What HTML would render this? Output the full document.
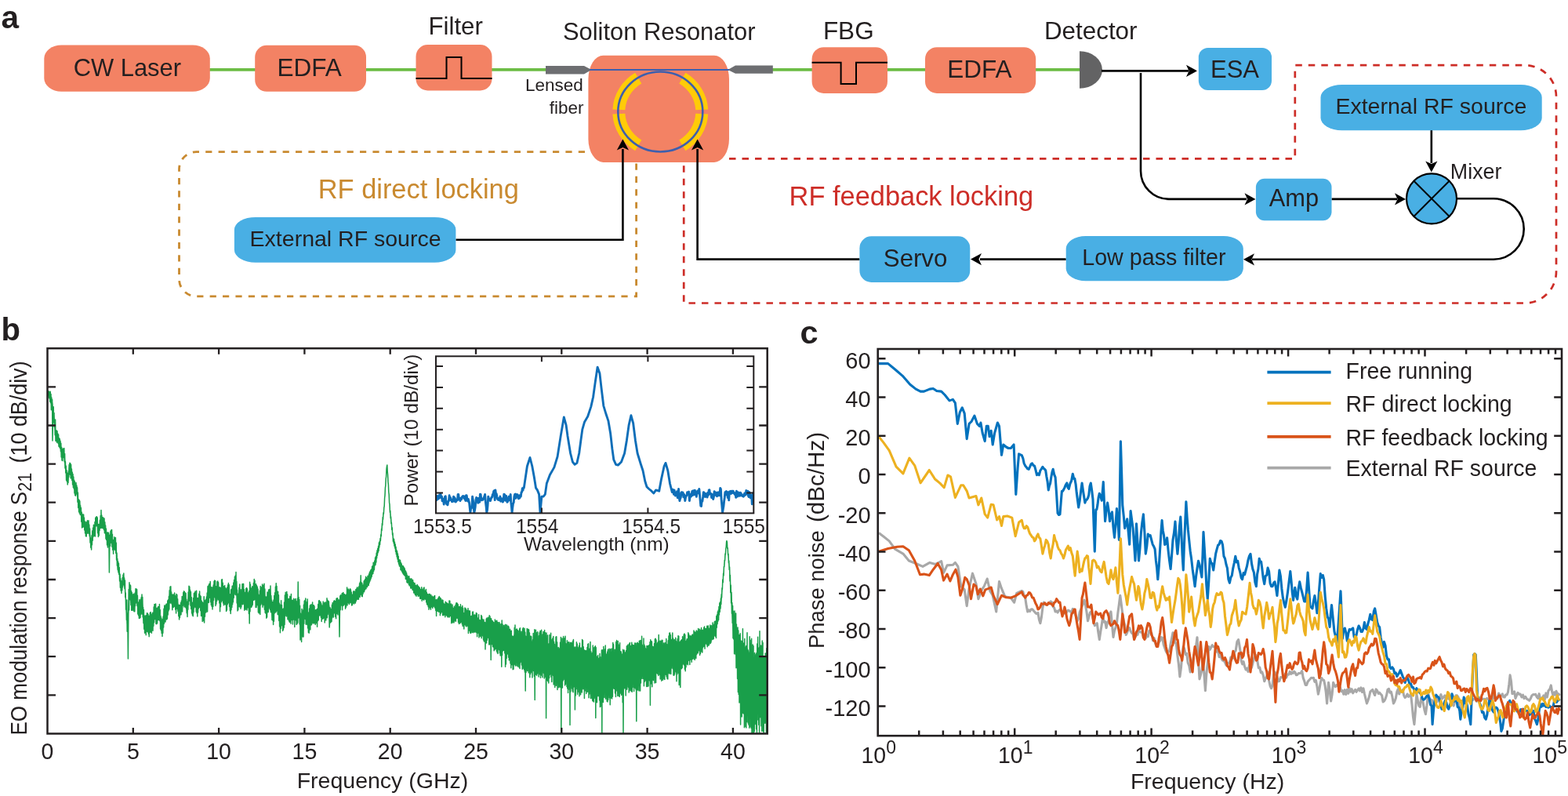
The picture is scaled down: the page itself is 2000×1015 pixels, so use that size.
<!DOCTYPE html>
<html><head><meta charset="utf-8"><title>Figure</title>
<style>html,body{margin:0;padding:0;background:#fff;} svg{display:block;} text{font-family:'Liberation Sans', Arial, Helvetica, sans-serif;}</style>
</head><body>
<svg width="2000" height="1015" viewBox="0 0 2000 1015">
<text x="1.5" y="35.6" font-size="40.5" font-weight="bold" fill="#231F20">a</text>
<line x1="260" y1="88.9" x2="700" y2="88.9" stroke="#6CBD45" stroke-width="3.8"/>
<line x1="980" y1="88.9" x2="1380" y2="88.9" stroke="#6CBD45" stroke-width="3.8"/>
<path d="M 811.6 193.6 L 250.5 193.6 A 22 22 0 0 0 228.5 215.6 L 228.5 355.9 A 22 22 0 0 0 250.5 377.9 L 811.6 377.9 Z" fill="none" stroke="#C98A30" stroke-width="2.8" stroke-dasharray="8.2 8.2"/>
<path d="M 930 202.4 L 1651.8 202.4 L 1651.8 83.2 L 1945 83.2 A 40 40 0 0 1 1985 123.2 L 1985 346.5 A 40 40 0 0 1 1945 386.5 L 872.2 386.5 L 872.2 207" fill="none" stroke="#CD2D27" stroke-width="2.7" stroke-dasharray="8.5 8"/>
<rect x="56.3" y="57.5" width="211.50" height="59.30" rx="22" ry="17" fill="#F38264"/>
<rect x="325.2" y="57.8" width="141.80" height="59.00" rx="15" ry="15" fill="#F38264"/>
<rect x="530.5" y="57" width="97.00" height="58.50" rx="15" ry="15" fill="#F38264"/>
<rect x="750.4" y="70.7" width="179.60" height="136.20" rx="19" ry="30" fill="#F38264"/>
<rect x="1035.6" y="60.2" width="96.40" height="58.80" rx="15" ry="15" fill="#F38264"/>
<rect x="1180" y="60.2" width="141.20" height="58.80" rx="15" ry="15" fill="#F38264"/>
<path d="M 530.5 100 L 569.5 100 L 569.5 73 L 588.5 73 L 588.5 100 L 627.5 100" fill="none" stroke="#000" stroke-width="2"/>
<path d="M 1035.6 79.8 L 1072.6 79.8 L 1072.6 107 L 1092 107 L 1092 79.8 L 1132 79.8" fill="none" stroke="#000" stroke-width="2"/>
<path d="M 696 84 L 745 84 L 754.5 89 L 745 94.4 L 696 94.4 Z" fill="#6D6E71"/>
<path d="M 985.8 83.4 L 938 83.4 L 928.4 89 L 938 93.8 L 985.8 93.8 Z" fill="#6D6E71"/>
<line x1="752" y1="89" x2="930" y2="89" stroke="#3D5FAE" stroke-width="1.8"/>
<path d="M 814.21 99.67 A 53 50.5 0 0 0 789.37 139.86" fill="none" stroke="#FFCB08" stroke-width="16"/>
<path d="M 789.37 145.14 A 53 50.5 0 0 0 814.21 185.33" fill="none" stroke="#FFCB08" stroke-width="16"/>
<path d="M 895.23 139.86 A 53 50.5 0 0 0 870.39 99.67" fill="none" stroke="#FFCB08" stroke-width="16"/>
<path d="M 895.23 145.14 A 53 50.5 0 0 1 870.39 185.33" fill="none" stroke="#FFCB08" stroke-width="16"/>
<ellipse cx="842.3" cy="142.5" rx="54" ry="51" fill="none" stroke="#3D5FAE" stroke-width="2.6"/>
<path d="M 1377 65.2 L 1377 112.8 A 29 23.8 0 0 0 1377 65.2 Z" fill="#636364"/>
<g fill="none" stroke="#000" stroke-width="2.6">
<line x1="1405" y1="90.4" x2="1516" y2="90.4"/>
<path d="M 1455 93 L 1455 217.9 A 36 36 0 0 0 1491 253.9 L 1590 253.9"/>
<line x1="1698.5" y1="253.9" x2="1782" y2="253.9"/>
<line x1="1825.8" y1="166" x2="1825.8" y2="208"/>
<path d="M 1859 253.3 L 1905 253.3 A 38.75 38.75 0 0 1 1905 330.8 L 1597 330.8"/>
<line x1="1359.7" y1="330.6" x2="1250" y2="330.6"/>
<path d="M 1096.4 330.6 L 889.6 330.6 L 889.6 190"/>
<path d="M 581.4 305.8 L 794.4 305.8 L 794.4 190"/>
</g>
<polygon points="1527.00,90.40 1513.00,98.00 1516.60,90.40 1513.00,82.80" fill="#000"/>
<polygon points="1601.50,253.90 1587.50,261.50 1591.10,253.90 1587.50,246.30" fill="#000"/>
<polygon points="1793.00,253.90 1779.00,261.50 1782.60,253.90 1779.00,246.30" fill="#000"/>
<polygon points="1825.80,219.50 1818.20,205.50 1825.80,209.10 1833.40,205.50" fill="#000"/>
<polygon points="1586.00,330.80 1600.00,323.20 1596.40,330.80 1600.00,338.40" fill="#000"/>
<polygon points="1238.00,330.60 1252.00,323.00 1248.40,330.60 1252.00,338.20" fill="#000"/>
<polygon points="889.60,177.60 897.20,191.60 889.60,188.00 882.00,191.60" fill="#000"/>
<polygon points="794.40,177.60 802.00,191.60 794.40,188.00 786.80,191.60" fill="#000"/>
<rect x="1528.8" y="61" width="93.20" height="54.00" rx="12" ry="12" fill="#49AFE4"/>
<rect x="1684.5" y="108" width="282.20" height="58.20" rx="27" ry="16" fill="#49AFE4"/>
<rect x="1601.9" y="227.7" width="96.60" height="53.50" rx="11" ry="11" fill="#49AFE4"/>
<rect x="298.9" y="276.9" width="282.50" height="57.80" rx="27" ry="16" fill="#49AFE4"/>
<rect x="1096.4" y="301.3" width="140.90" height="58.60" rx="15" ry="15" fill="#49AFE4"/>
<rect x="1359.7" y="301" width="226.10" height="57.30" rx="25" ry="16" fill="#49AFE4"/>
<circle cx="1826" cy="253.3" r="32" fill="#49AFE4" stroke="#000" stroke-width="2.2"/>
<path d="M 1803.37 230.67 L 1848.63 275.93 M 1848.63 230.67 L 1803.37 275.93" stroke="#000" stroke-width="2"/>
<text x="93.70" y="97.30" font-size="30.9" fill="#231F20" >CW Laser</text>
<text x="353.48" y="97.20" font-size="31.5" fill="#231F20" >EDFA</text>
<text x="546.50" y="44.00" font-size="31.2" fill="#231F20" >Filter</text>
<text x="717.96" y="51.25" font-size="30.9" fill="#231F20" >Soliton Resonator</text>
<text x="1049.88" y="49.80" font-size="31.5" fill="#231F20" >FBG</text>
<text x="1208.28" y="98.80" font-size="31.5" fill="#231F20" >EDFA</text>
<text x="1331.89" y="49.80" font-size="31.4" fill="#231F20" >Detector</text>
<text x="1544.02" y="99.00" font-size="31" fill="#231F20" >ESA</text>
<text x="1703.42" y="144.60" font-size="28.5" fill="#231F20" >External RF source</text>
<text x="1849.86" y="228.00" font-size="26.8" fill="#231F20" >Mixer</text>
<text x="1618.70" y="262.70" font-size="30.8" fill="#231F20" >Amp</text>
<text x="405.75" y="253.30" font-size="34.4" fill="#C98A30" >RF direct locking</text>
<text x="318.62" y="313.50" font-size="28.5" fill="#231F20" >External RF source</text>
<text x="1006.55" y="261.50" font-size="34.4" fill="#CD2D27" >RF feedback locking</text>
<text x="1126.84" y="339.50" font-size="31.2" fill="#231F20" >Servo</text>
<text x="1380.20" y="338.00" font-size="28.7" fill="#231F20" >Low pass filter</text>
<text x="743.75" y="116.25" font-size="22.5" fill="#231F20" text-anchor="end">Lensed</text>
<text x="744.5" y="145" font-size="22.5" fill="#231F20" text-anchor="end">fiber</text>
<text x="1.5" y="434.3" font-size="40" font-weight="bold" fill="#231F20">b</text>
<clipPath id="cb"><rect x="60.5" y="444.2" width="918.2" height="491.3"/></clipPath>
<polygon clip-path="url(#cb)" points="61.0,499.3 61.8,500.2 62.6,501.0 63.4,501.5 64.2,502.3 65.0,504.9 65.8,507.7 66.6,510.1 67.4,514.7 68.2,522.2 69.0,530.1 69.8,537.9 70.6,545.6 71.4,550.6 72.2,552.3 73.0,553.0 73.8,553.6 74.6,556.0 75.4,559.9 76.2,562.4 77.0,564.1 77.8,568.1 78.6,573.5 79.4,576.0 80.2,575.3 81.0,574.3 81.8,576.1 82.6,581.5 83.4,589.3 84.2,597.0 85.0,602.8 85.8,606.2 86.6,606.3 87.4,601.2 88.2,592.9 89.0,591.6 89.8,592.9 90.6,594.2 91.4,597.9 92.2,604.6 93.0,608.0 93.8,609.7 94.6,613.0 95.4,617.9 96.2,619.8 97.0,618.6 97.8,618.4 98.6,622.8 99.4,630.2 100.2,636.7 101.0,640.2 101.8,641.8 102.6,644.5 103.4,649.8 104.2,655.6 105.0,658.9 105.8,659.5 106.6,659.7 107.4,661.1 108.2,664.3 109.0,668.3 109.8,670.5 110.6,669.1 111.4,667.5 112.2,667.1 113.0,667.3 113.8,670.0 114.6,677.1 115.4,685.6 116.2,689.7 117.0,686.1 117.8,679.7 118.6,674.3 119.4,672.0 120.2,671.1 121.0,668.6 121.8,663.4 122.6,659.0 123.4,659.1 124.2,663.8 125.0,669.9 125.8,671.8 126.6,669.2 127.4,664.5 128.2,660.7 129.0,659.3 129.8,659.3 130.6,659.6 131.4,660.4 132.2,662.0 133.0,664.2 133.8,667.0 134.6,670.9 135.4,675.5 136.2,679.5 137.0,682.3 137.8,683.1 138.6,682.5 139.4,682.4 140.2,682.4 141.0,680.2 141.8,677.8 142.6,679.7 143.4,685.2 144.2,689.5 145.0,690.0 145.8,688.1 146.6,686.4 147.4,687.2 148.2,695.8 149.0,706.1 149.8,714.4 150.6,718.3 151.4,720.0 152.2,724.0 153.0,731.5 153.8,738.2 154.6,742.2 155.4,743.2 156.2,740.2 157.0,735.9 157.8,734.3 158.6,737.1 159.4,744.1 160.2,755.7 161.0,768.5 161.8,778.8 162.6,782.4 163.4,775.9 164.2,759.8 165.0,748.6 165.8,746.6 166.6,751.6 167.4,758.0 168.2,760.8 169.0,759.9 169.8,759.7 170.6,761.1 171.4,762.5 172.2,760.9 173.0,755.8 173.8,752.2 174.6,754.4 175.4,761.5 176.2,768.5 177.0,771.3 177.8,770.5 178.6,768.4 179.4,765.4 180.2,761.9 181.0,761.7 181.8,767.3 182.6,774.8 183.4,780.4 184.2,784.6 185.0,788.7 185.8,790.0 186.6,787.0 187.4,784.3 188.2,785.9 189.0,789.2 189.8,790.4 190.6,789.3 191.4,786.7 192.2,785.4 193.0,785.9 193.8,786.8 194.6,786.1 195.4,782.9 196.2,777.2 197.0,772.1 197.8,771.2 198.6,775.2 199.4,779.5 200.2,779.3 201.0,776.1 201.8,773.8 202.6,773.0 203.4,774.5 204.2,780.4 205.0,788.0 205.8,791.9 206.6,792.3 207.4,791.3 208.2,787.4 209.0,780.8 209.8,776.4 210.6,776.1 211.4,776.2 212.2,774.6 213.0,772.6 213.8,770.7 214.6,767.2 215.4,761.9 216.2,755.6 217.0,752.5 217.8,751.9 218.6,754.9 219.4,760.6 220.2,762.4 221.0,760.7 221.8,759.0 222.6,759.0 223.4,760.6 224.2,761.8 225.0,761.6 225.8,761.5 226.6,764.7 227.4,770.9 228.2,775.8 229.0,776.4 229.8,772.8 230.6,769.3 231.4,767.2 232.2,765.0 233.0,761.7 233.8,758.7 234.6,757.3 235.4,757.1 236.2,757.8 237.0,761.0 237.8,766.8 238.6,771.0 239.4,767.8 240.2,758.5 241.0,750.6 241.8,749.3 242.6,753.1 243.4,758.3 244.2,763.1 245.0,767.8 245.8,770.1 246.6,767.3 247.4,761.3 248.2,757.4 249.0,757.6 249.8,761.0 250.6,765.5 251.4,767.9 252.2,766.5 253.0,763.3 253.8,760.6 254.6,758.8 255.4,760.1 256.2,764.9 257.0,769.8 257.8,772.3 258.6,773.3 259.4,773.8 260.2,772.7 261.0,770.7 261.8,768.9 262.6,766.9 263.4,763.7 264.2,758.9 265.0,753.3 265.8,749.6 266.6,748.4 267.4,747.3 268.2,746.3 269.0,748.6 269.8,753.5 270.6,756.7 271.4,754.9 272.2,749.3 273.0,743.7 273.8,741.7 274.6,745.6 275.4,751.4 276.2,752.0 277.0,747.2 277.8,744.0 278.6,746.6 279.4,751.7 280.2,754.7 281.0,753.4 281.8,749.0 282.6,745.0 283.4,744.5 284.2,747.1 285.0,749.6 285.8,749.8 286.6,749.2 287.4,750.4 288.2,753.6 289.0,756.0 289.8,754.8 290.6,750.6 291.4,748.1 292.2,750.8 293.0,756.8 293.8,760.3 294.6,758.2 295.4,753.9 296.2,752.2 297.0,751.9 297.8,748.8 298.6,742.9 299.4,737.1 300.2,735.6 301.0,735.9 301.8,743.2 302.6,752.6 303.4,757.9 304.2,756.5 305.0,752.0 305.8,750.1 306.6,751.9 307.4,754.6 308.2,754.3 309.0,751.2 309.8,748.9 310.6,750.2 311.4,753.6 312.2,755.6 313.0,755.9 313.8,755.8 314.6,755.8 315.4,755.9 316.2,756.9 317.0,758.0 317.8,756.9 318.6,753.5 319.4,750.5 320.2,750.3 321.0,751.9 321.8,752.3 322.6,749.3 323.4,744.5 324.2,742.5 325.0,744.4 325.8,747.9 326.6,750.9 327.4,752.6 328.2,753.9 329.0,756.0 329.8,759.0 330.6,760.8 331.4,759.0 332.2,754.0 333.0,749.5 333.8,749.1 334.6,751.5 335.4,752.3 336.2,750.8 337.0,751.2 337.8,756.4 338.6,762.6 339.4,765.1 340.2,764.0 341.0,761.8 341.8,759.0 342.6,756.0 343.4,754.3 344.2,753.5 345.0,754.2 345.8,758.8 346.6,766.4 347.4,772.2 348.2,773.4 349.0,769.8 349.8,763.2 350.6,756.7 351.4,752.5 352.2,751.1 353.0,752.6 353.8,755.8 354.6,759.8 355.4,765.5 356.2,772.9 357.0,777.7 357.8,776.9 358.6,773.2 359.4,772.4 360.2,775.5 361.0,778.9 361.8,778.4 362.6,773.3 363.4,766.2 364.2,761.0 365.0,759.6 365.8,761.3 366.6,764.5 367.4,767.3 368.2,768.3 369.0,767.8 369.8,767.7 370.6,769.0 371.4,771.1 372.2,772.3 373.0,771.4 373.8,768.9 374.6,767.4 375.4,768.0 376.2,769.4 377.0,770.8 377.8,771.7 378.6,771.7 379.4,769.7 380.2,766.3 381.0,765.0 381.8,769.3 382.6,777.3 383.4,784.2 384.2,786.2 385.0,784.3 385.8,782.1 386.6,778.9 387.4,772.8 388.2,767.2 389.0,766.6 389.8,769.2 390.6,771.6 391.4,774.3 392.2,778.6 393.0,782.7 393.8,784.2 394.6,782.3 395.4,778.8 396.2,776.5 397.0,775.5 397.8,774.2 398.6,772.6 399.4,773.3 400.2,776.2 401.0,778.6 401.8,778.9 402.6,778.4 403.4,779.1 404.2,780.2 405.0,779.1 405.8,774.9 406.6,769.6 407.4,766.7 408.2,767.7 409.0,771.2 409.8,774.2 410.6,775.0 411.4,773.4 412.2,771.2 413.0,770.4 413.8,771.3 414.6,772.8 415.4,774.0 416.2,774.2 417.0,772.5 417.8,769.4 418.6,767.0 419.4,767.6 420.2,771.8 421.0,776.7 421.8,779.0 422.6,777.8 423.4,775.2 424.2,772.8 425.0,771.0 425.8,769.9 426.6,769.7 427.4,769.8 428.2,769.0 429.0,768.0 429.8,767.6 430.6,767.4 431.4,766.5 432.2,764.9 433.0,763.1 433.8,761.5 434.6,760.7 435.4,760.6 436.2,760.3 437.0,759.2 437.8,757.9 438.6,757.4 439.4,758.1 440.2,759.4 441.0,760.1 441.8,759.4 442.6,757.5 443.4,756.1 444.2,756.4 445.0,756.7 445.8,755.6 446.6,754.5 447.4,755.6 448.2,758.0 449.0,759.3 449.8,758.6 450.6,757.6 451.4,757.5 452.2,757.8 453.0,757.1 453.8,755.1 454.6,753.0 455.4,752.4 456.2,752.5 457.0,751.5 457.8,748.9 458.6,746.1 459.4,744.7 460.2,745.0 461.0,746.3 461.8,747.4 462.6,747.2 463.4,746.0 464.2,743.9 465.0,741.4 465.8,739.5 466.6,738.7 467.4,738.9 468.2,739.1 469.0,737.7 469.8,736.3 470.6,734.1 471.4,732.1 472.2,730.3 473.0,728.6 473.8,727.0 474.6,725.3 475.4,723.7 476.2,722.3 477.0,719.8 477.8,716.6 478.6,713.3 479.4,710.2 480.2,707.1 481.0,703.8 481.8,700.4 482.6,697.1 483.4,693.7 484.2,690.4 485.0,687.0 485.8,681.5 486.6,674.7 487.4,667.8 488.2,661.0 489.0,654.2 489.8,647.3 490.6,635.2 491.4,623.0 492.2,610.9 493.0,598.8 493.8,592.9 494.6,605.7 495.4,618.5 496.2,631.3 497.0,644.1 497.8,652.6 498.6,659.6 499.4,666.5 500.2,673.5 501.0,680.5 501.8,686.5 502.6,689.6 503.4,692.7 504.2,695.8 505.0,698.8 505.8,701.9 506.6,705.0 507.4,708.1 508.2,711.1 509.0,714.2 509.8,715.6 510.6,717.0 511.4,718.4 512.2,719.9 513.0,721.3 513.8,722.8 514.6,724.2 515.4,725.7 516.2,727.3 517.0,728.8 517.8,730.0 518.6,731.4 519.4,733.2 520.2,734.9 521.0,735.9 521.8,736.6 522.6,737.5 523.4,738.5 524.2,739.4 525.0,740.1 525.8,740.9 526.6,741.7 527.4,742.7 528.2,744.2 529.0,746.5 529.8,748.5 530.6,748.9 531.4,748.5 532.2,748.2 533.0,748.5 533.8,749.0 534.6,749.8 535.4,750.8 536.2,751.7 537.0,752.1 537.8,752.2 538.6,752.3 539.4,752.4 540.2,752.6 541.0,752.7 541.8,752.7 542.6,753.1 543.4,754.3 544.2,755.9 545.0,757.4 545.8,758.7 546.6,759.8 547.4,760.7 548.2,761.7 549.0,762.3 549.8,762.3 550.6,761.8 551.4,761.5 552.2,761.3 553.0,761.3 553.8,761.9 554.6,763.5 555.4,765.6 556.2,766.8 557.0,766.8 557.8,766.4 558.6,765.9 559.4,765.3 560.2,764.6 561.0,764.9 561.8,766.1 562.6,767.2 563.4,767.8 564.2,768.1 565.0,768.4 565.8,769.2 566.6,770.2 567.4,770.7 568.2,770.4 569.0,769.7 569.8,769.6 570.6,770.2 571.4,770.9 572.2,771.0 573.0,770.4 573.8,769.9 574.6,770.5 575.4,772.1 576.2,774.1 577.0,775.8 577.8,776.8 578.6,777.2 579.4,777.1 580.2,776.7 581.0,775.5 581.8,774.0 582.6,773.3 583.4,774.1 584.2,775.7 585.0,776.9 585.8,777.1 586.6,776.8 587.4,776.2 588.2,775.7 589.0,776.3 589.8,778.0 590.6,780.1 591.4,781.6 592.2,781.7 593.0,780.7 593.8,779.5 594.6,779.1 595.4,779.5 596.2,780.4 597.0,781.4 597.8,782.3 598.6,783.3 599.4,784.7 600.2,785.0 601.0,785.5 601.8,785.1 602.6,784.5 603.4,784.1 604.2,784.4 605.0,785.3 605.8,785.8 606.6,785.6 607.4,785.4 608.2,785.8 609.0,786.6 609.8,787.7 610.6,788.8 611.4,789.8 612.2,790.3 613.0,790.2 613.8,789.4 614.6,788.7 615.4,789.0 616.2,790.1 617.0,791.7 617.8,793.2 618.6,794.5 619.4,795.0 620.2,794.7 621.0,793.9 621.8,792.7 622.6,791.5 623.4,790.9 624.2,791.1 625.0,791.9 625.8,792.8 626.6,793.4 627.4,794.4 628.2,796.2 629.0,797.7 629.8,797.8 630.6,797.1 631.4,796.2 632.2,796.1 633.0,797.2 633.8,798.7 634.6,800.1 635.4,801.0 636.2,801.4 637.0,801.2 637.8,800.3 638.6,799.1 639.4,798.4 640.2,798.6 641.0,799.3 641.8,799.6 642.6,799.4 643.4,799.5 644.2,800.3 645.0,801.1 645.8,801.5 646.6,801.6 647.4,801.9 648.2,803.0 649.0,804.6 649.8,806.1 650.6,808.1 651.4,810.1 652.2,810.4 653.0,810.7 653.8,811.0 654.6,811.3 655.4,809.9 656.2,807.6 657.0,805.6 657.8,804.5 658.6,804.6 659.4,805.5 660.2,806.6 661.0,807.5 661.8,808.6 662.6,809.8 663.4,810.3 664.2,809.4 665.0,808.0 665.8,807.3 666.6,807.8 667.4,808.9 668.2,810.1 669.0,811.4 669.8,813.0 670.6,813.9 671.4,813.2 672.2,811.0 673.0,809.0 673.8,809.3 674.6,811.8 675.4,815.4 676.2,818.9 677.0,819.9 677.8,818.9 678.6,816.3 679.4,815.0 680.2,814.9 681.0,814.3 681.8,812.9 682.6,811.8 683.4,812.4 684.2,814.3 685.0,816.0 685.8,816.5 686.6,815.9 687.4,814.6 688.2,813.4 689.0,813.1 689.8,813.4 690.6,813.0 691.4,812.6 692.2,812.8 693.0,813.0 693.8,813.2 694.6,814.4 695.4,815.9 696.2,816.8 697.0,817.8 697.8,819.4 698.6,820.5 699.4,820.5 700.2,820.2 701.0,819.9 701.8,819.1 702.6,818.3 703.4,817.8 704.2,817.9 705.0,818.6 705.8,820.2 706.6,822.0 707.4,822.9 708.2,822.7 709.0,822.1 709.8,822.4 710.6,824.1 711.4,826.3 712.2,827.6 713.0,827.1 713.8,825.4 714.6,824.4 715.4,824.5 716.2,825.0 717.0,824.6 717.8,823.5 718.6,822.2 719.4,821.4 720.2,821.4 721.0,822.2 721.8,822.9 722.6,823.9 723.4,825.6 724.2,827.4 725.0,827.9 725.8,827.6 726.6,827.7 727.4,827.9 728.2,827.5 729.0,826.7 729.8,826.3 730.6,826.7 731.4,827.8 732.2,829.4 733.0,830.8 733.8,831.1 734.6,830.5 735.4,829.7 736.2,829.2 737.0,829.3 737.8,830.0 738.6,830.8 739.4,831.4 740.2,831.5 741.0,830.7 741.8,829.2 742.6,827.6 743.4,826.6 744.2,826.9 745.0,827.9 745.8,828.6 746.6,829.0 747.4,829.4 748.2,829.4 749.0,829.5 749.8,830.6 750.6,832.3 751.4,832.9 752.2,832.1 753.0,831.2 753.8,831.8 754.6,833.5 755.4,835.1 756.2,835.9 757.0,835.6 757.8,834.7 758.6,834.8 759.4,836.1 760.2,837.0 761.0,836.5 761.8,836.5 762.6,838.0 763.4,839.5 764.2,840.0 765.0,840.0 765.8,840.6 766.6,842.0 767.4,842.0 768.2,841.9 769.0,840.0 769.8,835.3 770.6,831.8 771.4,831.5 772.2,833.4 773.0,835.4 773.8,836.4 774.6,837.0 775.4,837.3 776.2,836.8 777.0,835.4 777.8,833.5 778.6,832.1 779.4,831.3 780.2,830.9 781.0,830.8 781.8,830.9 782.6,831.4 783.4,831.9 784.2,832.2 785.0,832.0 785.8,830.8 786.6,829.4 787.4,829.0 788.2,830.0 789.0,831.4 789.8,832.3 790.6,832.4 791.4,831.7 792.2,831.1 793.0,832.7 793.8,836.0 794.6,837.9 795.4,836.5 796.2,833.6 797.0,831.8 797.8,831.3 798.6,830.8 799.4,829.9 800.2,829.0 801.0,828.6 801.8,829.1 802.6,830.2 803.4,831.4 804.2,831.9 805.0,831.2 805.8,829.7 806.6,828.7 807.4,828.4 808.2,828.6 809.0,829.2 809.8,830.2 810.6,831.1 811.4,831.1 812.2,830.3 813.0,829.2 813.8,828.2 814.6,827.9 815.4,828.4 816.2,828.6 817.0,827.1 817.8,824.1 818.6,821.8 819.4,821.6 820.2,822.7 821.0,823.7 821.8,824.4 822.6,825.2 823.4,826.1 824.2,826.7 825.0,827.0 825.8,827.1 826.6,826.5 827.4,825.6 828.2,825.2 829.0,825.7 829.8,826.5 830.6,826.5 831.4,825.4 832.2,824.5 833.0,825.0 833.8,826.1 834.6,826.5 835.4,825.5 836.2,823.7 837.0,821.9 837.8,820.3 838.6,818.7 839.4,817.4 840.2,817.5 841.0,818.7 841.8,820.1 842.6,821.1 843.4,822.0 844.2,822.6 845.0,822.5 845.8,821.9 846.6,821.3 847.4,821.6 848.2,822.4 849.0,823.2 849.8,823.5 850.6,823.2 851.4,822.1 852.2,820.4 853.0,818.2 853.8,816.4 854.6,815.9 855.4,816.2 856.2,816.1 857.0,815.7 857.8,815.9 858.6,816.8 859.4,818.1 860.2,819.9 861.0,821.4 861.8,821.5 862.6,820.5 863.4,819.6 864.2,819.3 865.0,819.5 865.8,819.5 866.6,818.8 867.4,817.5 868.2,816.2 869.0,815.3 869.8,815.1 870.6,815.1 871.4,814.9 872.2,814.8 873.0,815.5 873.8,816.8 874.6,817.2 875.4,816.3 876.2,815.0 877.0,814.2 877.8,813.6 878.6,812.8 879.4,812.1 880.2,811.8 881.0,812.0 881.8,812.3 882.6,812.5 883.4,812.2 884.2,811.7 885.0,811.0 885.8,810.2 886.6,809.4 887.4,808.6 888.2,807.8 889.0,806.8 889.8,806.1 890.6,805.7 891.4,805.3 892.2,805.9 893.0,807.1 893.8,807.1 894.6,806.3 895.4,805.6 896.2,805.1 897.0,804.6 897.8,804.0 898.6,803.2 899.4,802.7 900.2,802.7 901.0,802.7 901.8,802.5 902.6,802.2 903.4,802.3 904.2,802.7 905.0,802.5 905.8,801.3 906.6,799.9 907.4,799.1 908.2,798.8 909.0,798.1 909.8,796.9 910.6,795.5 911.4,794.4 912.2,793.7 913.0,793.1 913.8,789.4 914.6,785.9 915.4,782.7 916.2,779.0 917.0,775.3 917.8,771.5 918.6,767.8 919.4,764.0 920.2,757.8 921.0,749.0 921.8,740.3 922.6,731.6 923.4,722.8 924.2,714.3 925.0,706.7 925.8,699.0 926.6,691.4 927.4,691.4 928.2,699.2 929.0,707.0 929.8,714.8 930.6,724.7 931.4,735.3 932.2,745.9 933.0,756.4 933.8,767.0 934.6,777.6 935.4,784.4 936.2,785.9 937.0,788.7 937.8,791.1 938.6,793.9 939.4,798.6 940.2,804.9 941.0,810.1 941.8,812.4 942.6,813.0 943.4,814.1 944.2,816.4 945.0,819.0 945.8,821.1 946.6,822.5 947.4,824.2 948.2,826.4 949.0,827.3 949.8,826.3 950.6,824.2 951.4,823.1 952.2,824.2 953.0,825.9 953.8,827.2 954.6,828.6 955.4,830.7 956.2,833.2 957.0,835.1 957.8,835.1 958.6,834.0 959.4,833.6 960.2,835.4 961.0,839.3 961.8,842.0 962.6,840.7 963.4,836.4 964.2,832.7 965.0,831.3 965.8,830.4 966.6,828.3 967.4,825.7 968.2,824.6 969.0,825.3 969.8,827.3 970.6,830.0 971.4,833.2 972.2,836.5 973.0,838.5 973.8,839.1 974.6,838.5 975.4,837.6 976.2,837.9 977.0,839.8 977.8,842.4 978.6,844.4 978.6,914.9 977.8,913.6 977.0,911.8 976.2,910.6 975.4,911.0 974.6,912.6 973.8,914.0 973.0,914.1 972.2,912.8 971.4,910.3 970.6,907.5 969.8,904.9 969.0,903.0 968.2,902.4 967.4,903.7 966.6,906.4 965.8,908.6 965.0,909.5 964.2,911.1 963.4,914.8 962.6,919.3 961.8,920.8 961.0,918.1 960.2,914.3 959.4,912.6 958.6,913.2 957.8,914.3 957.0,914.5 956.2,913.1 955.4,910.9 954.6,909.2 953.8,908.1 953.0,907.2 952.2,905.9 951.4,905.1 950.6,906.6 949.8,909.1 949.0,910.5 948.2,910.0 947.4,908.2 946.6,906.8 945.8,903.2 945.0,896.5 944.2,889.3 943.4,882.3 942.6,876.6 941.8,871.2 941.0,864.3 940.2,854.9 939.4,844.6 938.6,836.0 937.8,829.3 937.0,822.9 936.2,816.2 935.4,810.7 934.6,800.4 933.8,787.0 933.0,773.6 932.2,760.1 931.4,746.7 930.6,733.3 929.8,721.0 929.0,712.0 928.2,703.0 927.4,694.0 926.6,693.6 925.8,702.0 925.0,710.3 924.2,718.7 923.4,727.8 922.6,737.1 921.8,746.5 921.0,755.8 920.2,765.2 919.4,772.1 918.6,776.6 917.8,781.1 917.0,785.6 916.2,790.1 915.4,794.6 914.6,798.4 913.8,802.7 913.0,807.1 912.2,807.9 911.4,808.6 910.6,809.9 909.8,811.4 909.0,812.7 908.2,813.4 907.4,814.1 906.6,815.3 905.8,817.1 905.0,818.7 904.2,819.3 903.4,819.4 902.6,819.7 901.8,820.4 901.0,821.0 900.2,821.4 899.4,821.8 898.6,822.7 897.8,823.9 897.0,825.0 896.2,825.9 895.4,826.7 894.6,827.9 893.8,829.1 893.0,829.5 892.2,828.7 891.4,828.6 890.6,829.4 889.8,830.2 889.0,831.2 888.2,832.7 887.4,833.9 886.6,835.1 885.8,836.3 885.0,837.5 884.2,838.6 883.4,839.3 882.6,839.8 881.8,839.9 881.0,839.7 880.2,839.7 879.4,840.2 878.6,841.2 877.8,842.1 877.0,842.9 876.2,844.0 875.4,845.5 874.6,846.6 873.8,846.4 873.0,845.4 872.2,844.8 871.4,845.2 870.6,845.6 869.8,845.7 869.0,846.1 868.2,847.3 867.4,848.8 866.6,850.2 865.8,851.2 865.0,851.4 864.2,851.4 863.4,851.9 862.6,853.0 861.8,854.2 861.0,854.3 860.2,853.1 859.4,851.5 858.6,850.3 857.8,849.7 857.0,849.7 856.2,850.3 855.4,850.6 854.6,850.5 853.8,851.1 853.0,853.0 852.2,855.4 851.4,857.3 850.6,858.4 849.8,858.9 849.0,858.7 848.2,858.0 847.4,857.4 846.6,857.3 845.8,858.0 845.0,858.8 844.2,859.0 843.4,858.5 842.6,857.8 841.8,856.9 841.0,855.6 840.2,854.5 839.4,854.6 838.6,856.0 837.8,857.8 837.0,859.5 836.2,861.5 835.4,863.5 834.6,864.6 833.8,864.3 833.0,863.3 832.2,863.0 831.4,864.0 830.6,865.2 829.8,865.4 829.0,864.7 828.2,864.4 827.4,864.9 826.6,865.9 825.8,866.6 825.0,866.8 824.2,866.6 823.4,866.2 822.6,865.4 821.8,864.7 821.0,864.2 820.2,863.4 819.4,862.4 818.6,862.8 817.8,865.3 817.0,868.3 816.2,870.0 815.4,870.0 814.6,869.6 813.8,870.1 813.0,871.3 812.2,872.5 811.4,873.4 810.6,873.6 809.8,872.9 809.0,872.0 808.2,871.6 807.4,871.6 806.6,872.0 805.8,873.2 805.0,874.8 804.2,875.6 803.4,875.3 802.6,874.3 801.8,873.3 801.0,873.0 800.2,873.5 799.4,874.6 798.6,875.7 797.8,876.3 797.0,877.0 796.2,879.0 795.4,882.0 794.6,883.4 793.8,881.6 793.0,878.4 792.2,876.8 791.4,877.5 790.6,878.3 789.8,878.2 789.0,877.4 788.2,876.1 787.4,875.2 786.6,875.6 785.8,877.1 785.0,878.3 784.2,878.7 783.4,878.4 782.6,877.9 781.8,877.5 781.0,877.5 780.2,877.7 779.4,878.2 778.6,879.0 777.8,880.5 777.0,882.4 776.2,884.0 775.4,884.5 774.6,884.2 773.8,883.7 773.0,882.8 772.2,880.9 771.4,879.0 770.6,879.4 769.8,883.0 769.0,887.7 768.2,889.7 767.4,889.8 766.6,890.0 765.8,888.6 765.0,887.9 764.2,887.8 763.4,887.2 762.6,885.5 761.8,883.9 761.0,883.9 760.2,884.2 759.4,883.3 758.6,881.8 757.8,881.6 757.0,882.4 756.2,882.6 755.4,881.7 754.6,880.0 753.8,878.2 753.0,877.5 752.2,878.3 751.4,879.0 750.6,878.3 749.8,876.5 749.0,875.3 748.2,875.1 747.4,874.9 746.6,874.4 745.8,874.0 745.0,873.1 744.2,872.0 743.4,871.7 742.6,872.5 741.8,874.0 741.0,875.4 740.2,876.1 739.4,875.9 738.6,875.2 737.8,874.3 737.0,873.6 736.2,873.3 735.4,873.8 734.6,874.6 733.8,875.1 733.0,874.7 732.2,873.3 731.4,871.6 730.6,870.5 729.8,870.1 729.0,870.4 728.2,871.1 727.4,871.5 726.6,871.2 725.8,871.1 725.0,871.3 724.2,870.7 723.4,868.9 722.6,867.1 721.8,866.1 721.0,865.3 720.2,864.5 719.4,864.4 718.6,865.2 717.8,866.4 717.0,867.5 716.2,867.8 715.4,867.3 714.6,867.1 713.8,868.1 713.0,869.7 712.2,870.2 711.4,868.9 710.6,866.6 709.8,864.9 709.0,864.5 708.2,865.0 707.4,865.2 706.6,864.2 705.8,862.3 705.0,860.6 704.2,859.8 703.4,859.6 702.6,860.0 701.8,860.7 701.0,861.4 700.2,861.6 699.4,861.7 698.6,861.6 697.8,860.4 697.0,858.7 696.2,857.6 695.4,856.6 694.6,855.1 693.8,853.7 693.0,853.4 692.2,853.1 691.4,852.9 690.6,853.1 689.8,853.4 689.0,853.0 688.2,853.2 687.4,854.3 686.6,855.5 685.8,856.0 685.0,855.4 684.2,853.6 683.4,851.6 682.6,850.9 681.8,851.9 681.0,853.2 680.2,853.6 679.4,853.7 678.6,854.9 677.8,857.3 677.0,858.2 676.2,857.0 675.4,853.4 674.6,849.7 673.8,847.0 673.0,846.6 672.2,848.4 671.4,850.4 670.6,851.0 669.8,849.9 669.0,848.2 668.2,846.7 667.4,845.4 666.6,844.1 665.8,843.4 665.0,843.9 664.2,845.2 663.4,846.0 662.6,845.3 661.8,843.9 661.0,842.7 660.2,841.7 659.4,840.4 658.6,839.3 657.8,839.1 657.0,840.0 656.2,841.8 655.4,844.0 654.6,845.3 653.8,844.8 653.0,844.3 652.2,843.9 651.4,843.4 650.6,841.3 649.8,839.1 649.0,837.5 648.2,835.7 647.4,834.4 646.6,833.7 645.8,833.3 645.0,832.6 644.2,831.5 643.4,830.4 642.6,829.9 641.8,829.7 641.0,829.1 640.2,828.1 639.4,827.6 638.6,828.0 637.8,828.8 637.0,829.4 636.2,829.3 635.4,828.5 634.6,827.3 633.8,825.6 633.0,823.7 632.2,822.3 631.4,822.1 630.6,822.6 629.8,823.1 629.0,822.6 628.2,820.8 627.4,818.7 626.6,817.3 625.8,816.4 625.0,815.2 624.2,814.1 623.4,813.5 622.6,813.8 621.8,814.7 621.0,815.6 620.2,816.0 619.4,815.9 618.6,815.1 617.8,813.7 617.0,812.0 616.2,810.3 615.4,809.0 614.6,808.7 613.8,809.2 613.0,809.9 612.2,809.9 611.4,809.2 610.6,808.1 609.8,806.9 609.0,805.6 608.2,804.7 607.4,804.3 606.6,804.4 605.8,804.4 605.0,803.7 604.2,802.8 603.4,802.3 602.6,802.6 601.8,803.1 601.0,803.3 600.2,802.7 599.4,800.1 598.6,798.6 597.8,797.5 597.0,796.5 596.2,795.4 595.4,794.4 594.6,793.9 593.8,794.2 593.0,795.3 592.2,796.1 591.4,795.9 590.6,794.4 589.8,792.2 589.0,790.3 588.2,789.7 587.4,790.1 586.6,790.6 585.8,790.9 585.0,790.5 584.2,789.3 583.4,787.6 582.6,786.7 581.8,787.3 581.0,788.8 580.2,789.9 579.4,790.3 578.6,790.2 577.8,789.8 577.0,788.7 576.2,786.9 575.4,784.8 574.6,783.2 573.8,782.5 573.0,782.9 572.2,783.4 571.4,783.3 570.6,782.5 569.8,781.8 569.0,781.8 568.2,782.4 567.4,782.7 566.6,782.1 565.8,781.0 565.0,780.2 564.2,779.8 563.4,779.4 562.6,778.7 561.8,777.5 561.0,776.3 560.2,775.9 559.4,776.5 558.6,777.1 557.8,777.5 557.0,778.0 556.2,777.9 555.4,776.6 554.6,774.6 553.8,772.9 553.0,772.3 552.2,772.3 551.4,772.4 550.6,772.7 549.8,773.1 549.0,773.2 548.2,772.5 547.4,771.5 546.6,770.5 545.8,769.4 545.0,768.1 544.2,766.5 543.4,764.9 542.6,763.7 541.8,763.3 541.0,763.2 540.2,763.1 539.4,762.9 538.6,762.7 537.8,762.6 537.0,762.5 536.2,762.0 535.4,761.1 534.6,760.1 533.8,759.3 533.0,758.7 532.2,758.4 531.4,758.6 530.6,759.0 529.8,758.6 529.0,756.3 528.2,753.7 527.4,751.9 526.6,750.6 525.8,749.5 525.0,748.5 524.2,747.4 523.4,746.2 522.6,744.9 521.8,743.7 521.0,742.7 520.2,741.5 519.4,739.8 518.6,737.9 517.8,736.4 517.0,735.2 516.2,733.6 515.4,732.0 514.6,730.4 513.8,728.8 513.0,727.2 512.2,725.8 511.4,724.2 510.6,722.7 509.8,721.3 509.0,719.8 508.2,716.6 507.4,713.4 506.6,710.2 505.8,707.0 505.0,703.8 504.2,700.6 503.4,697.4 502.6,694.2 501.8,691.0 501.0,684.8 500.2,677.7 499.4,670.5 498.6,663.3 497.8,656.1 497.0,647.4 496.2,634.2 495.4,621.0 494.6,607.8 493.8,594.6 493.0,600.7 492.2,613.2 491.4,625.7 490.6,638.2 489.8,650.7 489.0,657.7 488.2,664.7 487.4,671.8 486.6,678.8 485.8,685.8 485.0,691.6 484.2,695.1 483.4,698.7 482.6,702.2 481.8,705.8 481.0,709.4 480.2,712.9 479.4,716.2 478.6,719.5 477.8,723.0 477.0,726.4 476.2,729.1 475.4,730.6 474.6,732.4 473.8,734.3 473.0,736.1 472.2,738.0 471.4,739.9 470.6,742.2 469.8,744.5 469.0,746.1 468.2,747.7 467.4,747.7 466.6,747.7 465.8,748.6 465.0,750.7 464.2,753.4 463.4,755.7 462.6,757.0 461.8,757.4 461.0,756.4 460.2,755.1 459.4,754.8 458.6,756.2 457.8,759.0 457.0,761.5 456.2,762.6 455.4,762.5 454.6,763.1 453.8,765.2 453.0,767.2 452.2,767.9 451.4,767.5 450.6,767.7 449.8,768.7 449.0,769.4 448.2,768.1 447.4,765.7 446.6,764.7 445.8,765.8 445.0,767.0 444.2,766.9 443.4,766.8 442.6,768.2 441.8,770.2 441.0,771.1 440.2,770.5 439.4,769.3 438.6,768.7 437.8,769.3 437.0,770.8 436.2,772.0 435.4,772.4 434.6,772.6 433.8,773.6 433.0,775.3 432.2,777.3 431.4,778.8 430.6,779.7 429.8,779.9 429.0,780.3 428.2,781.3 427.4,782.1 426.6,782.0 425.8,782.2 425.0,783.3 424.2,785.1 423.4,787.5 422.6,790.1 421.8,791.3 421.0,789.0 420.2,784.1 419.4,780.0 418.6,779.3 417.8,781.8 417.0,784.9 416.2,786.7 415.4,786.5 414.6,785.4 413.8,784.1 413.0,783.2 412.2,784.1 411.4,786.4 410.6,788.1 409.8,787.4 409.0,784.4 408.2,781.0 407.4,780.1 406.6,783.2 405.8,788.5 405.0,792.8 404.2,794.0 403.4,793.0 402.6,792.4 401.8,793.2 401.0,793.2 400.2,791.1 399.4,788.5 398.6,788.1 397.8,790.0 397.0,791.7 396.2,792.9 395.4,795.5 394.6,799.3 393.8,801.5 393.0,800.4 392.2,796.6 391.4,792.6 390.6,790.1 389.8,788.1 389.0,785.8 388.2,786.6 387.4,792.4 386.6,798.4 385.8,801.6 385.0,803.7 384.2,805.5 383.4,803.5 382.6,796.5 381.8,788.5 381.0,784.1 380.2,785.3 379.4,788.7 378.6,790.6 377.8,790.5 377.0,789.6 376.2,788.2 375.4,786.6 374.6,786.0 373.8,787.4 373.0,789.9 372.2,790.8 371.4,789.7 370.6,787.7 369.8,786.4 369.0,786.6 368.2,787.1 367.4,786.2 366.6,783.5 365.8,780.3 365.0,778.7 364.2,780.1 363.4,785.4 362.6,792.6 361.8,797.8 361.0,798.3 360.2,795.0 359.4,791.9 358.6,792.8 357.8,796.5 357.0,797.2 356.2,792.3 355.4,784.9 354.6,779.0 353.8,775.0 353.0,771.7 352.2,770.2 351.4,771.4 350.6,775.6 349.8,782.0 349.0,788.5 348.2,792.0 347.4,790.8 346.6,784.9 345.8,777.2 345.0,772.5 344.2,771.8 343.4,772.5 342.6,774.1 341.8,777.0 341.0,779.8 340.2,781.9 339.4,782.9 338.6,780.4 337.8,774.0 337.0,768.7 336.2,768.3 335.4,769.8 334.6,768.9 333.8,766.4 333.0,766.7 332.2,771.1 331.4,776.1 330.6,777.7 329.8,775.9 329.0,772.9 328.2,770.7 327.4,769.4 326.6,767.7 325.8,764.7 325.0,761.2 324.2,759.3 323.4,761.3 322.6,766.1 321.8,769.1 321.0,768.7 320.2,767.1 319.4,767.3 318.6,770.3 317.8,773.7 317.0,774.8 316.2,773.7 315.4,772.7 314.6,772.6 313.8,772.6 313.0,772.7 312.2,772.4 311.4,770.4 310.6,767.0 309.8,765.7 309.0,768.0 308.2,771.1 307.4,771.4 306.6,768.7 305.8,766.9 305.0,768.8 304.2,773.3 303.4,774.7 302.6,769.4 301.8,760.0 301.0,752.7 300.2,752.4 299.4,753.9 298.6,759.7 297.8,765.6 297.0,768.5 296.2,768.8 295.4,770.5 294.6,774.7 293.8,776.8 293.0,773.3 292.2,767.2 291.4,764.5 290.6,766.9 289.8,771.0 289.0,772.2 288.2,769.8 287.4,766.5 286.6,765.3 285.8,765.9 285.0,765.6 284.2,763.1 283.4,760.4 282.6,760.8 281.8,764.8 281.0,769.2 280.2,770.5 279.4,767.4 278.6,762.2 277.8,759.6 277.0,762.7 276.2,767.5 275.4,766.8 274.6,761.0 273.8,757.1 273.0,759.0 272.2,764.6 271.4,770.1 270.6,771.9 269.8,768.7 269.0,763.6 268.2,761.2 267.4,762.0 266.6,763.0 265.8,764.0 265.0,767.6 264.2,773.1 263.4,777.8 262.6,780.8 261.8,782.6 261.0,784.3 260.2,786.1 259.4,787.0 258.6,786.5 257.8,785.3 257.0,782.7 256.2,777.7 255.4,772.7 254.6,771.3 253.8,772.9 253.0,775.6 252.2,778.8 251.4,780.3 250.6,777.8 249.8,773.3 249.0,769.9 248.2,769.7 247.4,773.6 246.6,779.6 245.8,782.4 245.0,780.1 244.2,775.4 243.4,770.6 242.6,765.4 241.8,761.6 241.0,762.8 240.2,770.7 239.4,780.0 238.6,783.1 237.8,778.9 237.0,773.1 236.2,769.9 235.4,769.1 234.6,769.3 233.8,770.7 233.0,773.6 232.2,776.9 231.4,779.1 230.6,781.1 229.8,784.6 229.0,788.2 228.2,787.5 227.4,782.7 226.6,776.5 225.8,773.4 225.0,773.5 224.2,773.7 223.4,772.5 222.6,771.0 221.8,770.9 221.0,772.7 220.2,774.5 219.4,772.7 218.6,767.0 217.8,764.1 217.0,764.6 216.2,767.7 215.4,774.1 214.6,779.5 213.8,783.0 213.0,784.9 212.2,786.9 211.4,788.7 210.6,788.6 209.8,789.0 209.0,793.5 208.2,800.2 207.4,804.1 206.6,805.2 205.8,804.9 205.0,801.0 204.2,793.5 203.4,787.6 202.6,786.3 201.8,787.1 201.0,789.5 200.2,792.9 199.4,793.2 198.6,789.1 197.8,785.3 197.0,786.4 196.2,791.7 195.4,797.5 194.6,801.0 193.8,801.8 193.0,801.0 192.2,800.7 191.4,802.3 190.6,804.9 189.8,806.0 189.0,804.8 188.2,801.4 187.4,799.8 186.6,802.5 185.8,805.4 185.0,804.1 184.2,799.9 183.4,795.6 182.6,790.0 181.8,782.4 181.0,776.8 180.2,776.9 179.4,780.2 178.6,783.1 177.8,785.0 177.0,785.7 176.2,782.8 175.4,775.6 174.6,768.3 173.8,766.0 173.0,769.4 172.2,774.3 171.4,775.8 170.6,774.2 169.8,772.7 169.0,773.0 168.2,774.8 167.4,772.9 166.6,767.4 165.8,763.3 165.0,766.3 164.2,778.3 163.4,795.4 162.6,800.4 161.8,795.0 161.0,782.9 160.2,768.4 159.4,754.9 158.6,747.6 157.8,744.6 157.0,746.1 156.2,750.3 155.4,753.1 154.6,751.9 153.8,747.8 153.0,741.1 152.2,733.9 151.4,730.1 150.6,728.6 149.8,725.0 149.0,716.9 148.2,706.8 147.4,698.4 146.6,697.6 145.8,699.3 145.0,701.2 144.2,700.7 143.4,696.4 142.6,690.9 141.8,689.0 141.0,691.4 140.2,693.6 139.4,693.5 138.6,693.5 137.8,694.0 137.0,693.1 136.2,690.2 135.4,686.0 134.6,681.4 133.8,677.3 133.0,674.4 132.2,672.1 131.4,670.5 130.6,669.7 129.8,669.4 129.0,669.4 128.2,670.8 127.4,674.6 126.6,679.3 125.8,681.9 125.0,679.9 124.2,673.9 123.4,669.1 122.6,668.9 121.8,673.2 121.0,678.2 120.2,680.7 119.4,681.4 118.6,683.6 117.8,688.9 117.0,695.2 116.2,698.7 115.4,694.6 114.6,686.3 113.8,679.3 113.0,676.8 112.2,676.8 111.4,677.3 110.6,679.1 109.8,680.5 109.0,678.4 108.2,674.4 107.4,671.2 106.6,669.8 105.8,669.6 105.0,668.9 104.2,665.7 103.4,659.8 102.6,654.5 101.8,651.9 101.0,650.3 100.2,646.8 99.4,640.2 98.6,632.9 97.8,628.5 97.0,628.7 96.2,629.9 95.4,627.9 94.6,623.0 93.8,619.6 93.0,617.8 92.2,614.4 91.4,607.5 90.6,603.8 89.8,602.3 89.0,600.9 88.2,602.1 87.4,610.2 86.6,615.2 85.8,615.1 85.0,611.7 84.2,605.8 83.4,598.0 82.6,590.2 81.8,584.7 81.0,582.9 80.2,583.7 79.4,584.5 78.6,581.9 77.8,576.7 77.0,572.8 76.2,571.2 75.4,568.8 74.6,565.1 73.8,562.7 73.0,562.2 72.2,561.6 71.4,560.1 70.6,555.0 69.8,547.2 69.0,539.4 68.2,531.4 67.4,523.8 66.6,519.0 65.8,516.5 65.0,513.5 64.2,510.7 63.4,508.9 62.6,507.0 61.8,504.9 61.0,502.6" fill="#199F4A"/>
<polyline clip-path="url(#cb)" points="61.0,498.3 61.4,504.0 61.8,500.4 62.2,506.8 62.6,499.0 63.0,507.9 63.4,501.0 63.8,512.2 64.2,499.3 64.6,513.8 65.0,502.4 65.4,522.7 65.8,507.0 66.2,519.8 66.6,509.4 67.0,562.0 67.4,540.0 67.8,530.7 68.2,518.7 68.6,538.4 69.0,526.5 69.4,544.7 69.8,536.0 70.2,554.8 70.6,534.9 71.0,562.3 71.4,548.8 71.8,562.5 72.2,548.9 72.6,564.3 73.0,549.8 73.4,562.0 73.8,552.9 74.2,565.6 74.6,554.2 75.0,569.2 75.4,558.5 75.8,570.1 76.2,559.7 76.6,571.6 77.0,562.3 77.4,575.4 77.8,565.3 78.2,583.1 78.6,570.3 79.0,586.9 79.4,576.4 79.8,587.6 80.2,572.0 80.6,583.3 81.0,572.7 81.4,583.2 81.8,571.4 82.2,589.1 82.6,578.6 83.0,596.9 83.4,588.6 83.8,602.9 84.2,593.9 84.6,612.4 85.0,599.6 85.4,614.0 85.8,603.0 86.2,617.9 86.6,603.7 87.0,615.5 87.4,600.4 87.8,608.3 88.2,592.5 88.6,602.6 89.0,590.3 89.4,605.2 89.8,590.9 90.2,610.1 90.6,592.6 91.0,607.5 91.4,598.0 91.8,612.4 92.2,601.9 92.6,618.1 93.0,604.5 93.4,621.5 93.8,608.0 94.2,623.1 94.6,612.2 95.0,628.9 95.4,614.0 95.8,631.7 96.2,617.7 96.6,632.2 97.0,615.6 97.4,630.1 97.8,618.9 98.2,629.5 98.6,621.8 99.0,640.3 99.4,627.9 99.8,647.6 100.2,636.7 100.6,652.8 101.0,637.6 101.4,654.6 101.8,638.9 102.2,656.3 102.6,644.8 103.0,656.8 103.4,647.4 103.8,665.2 104.2,653.1 104.6,673.1 105.0,655.4 105.4,672.3 105.8,657.0 106.2,672.0 106.6,656.1 107.0,670.1 107.4,660.0 107.8,675.9 108.2,664.9 108.6,679.9 109.0,665.5 109.4,683.7 109.8,670.9 110.2,683.9 110.6,665.7 111.0,677.6 111.4,663.8 111.8,680.3 112.2,667.0 112.6,678.2 113.0,663.8 113.4,680.4 113.8,669.0 114.2,683.7 114.6,674.0 115.0,692.1 115.4,685.9 115.8,698.2 116.2,686.3 116.6,701.1 117.0,682.8 117.4,694.8 117.8,676.8 118.2,689.2 118.6,673.1 119.0,684.5 119.4,669.2 119.8,682.5 120.2,671.6 120.6,683.6 121.0,665.5 121.4,684.0 121.8,660.3 122.2,671.0 122.6,659.2 123.0,669.6 123.4,658.8 123.8,670.8 124.2,659.9 124.6,679.8 125.0,668.6 125.4,684.5 125.8,668.6 126.2,683.0 126.6,669.4 127.0,676.5 127.4,663.2 127.8,673.4 128.2,657.5 128.6,673.2 129.0,650.4 129.4,673.1 129.8,657.0 130.2,673.4 130.6,660.3 131.0,672.7 131.4,659.8 131.8,674.0 132.2,660.9 132.6,675.8 133.0,661.0 133.4,679.7 133.8,665.8 134.2,680.1 134.6,670.1 135.0,687.0 135.4,674.1 135.8,688.6 136.2,679.1 136.6,695.1 137.0,678.9 137.4,698.0 137.8,679.1 138.2,694.0 138.6,679.4 139.0,693.2 139.4,730.0 139.8,698.1 140.2,682.0 140.6,696.3 141.0,677.2 141.4,691.0 141.8,676.0 142.2,692.5 142.6,675.4 143.0,697.6 143.4,681.3 143.8,701.3 144.2,688.2 144.6,706.2 145.0,690.3 145.4,700.8 145.8,684.8 146.2,700.5 146.6,686.8 147.0,701.8 147.4,685.5 147.8,705.6 148.2,691.9 148.6,713.9 149.0,704.9 149.4,721.3 149.8,712.4 150.2,726.8 150.6,716.0 151.0,730.0 151.4,718.2 151.8,732.4 152.2,723.6 152.6,740.9 153.0,732.0 153.4,749.2 153.8,737.8 154.2,753.2 154.6,740.7 155.0,756.4 155.4,741.7 155.8,752.8 156.2,736.6 156.6,748.4 157.0,732.9 157.4,746.1 157.8,731.1 158.2,745.4 158.6,737.0 159.0,750.8 159.4,739.9 159.8,761.5 160.2,755.9 160.6,777.2 161.0,766.9 161.4,790.5 161.8,764.9 162.2,805.3 162.6,782.7 163.0,802.8 163.4,840.0 163.8,787.7 164.2,751.4 164.6,778.0 165.0,742.8 165.4,764.1 165.8,745.4 166.2,764.8 166.6,746.7 167.0,771.5 167.4,753.6 167.8,778.2 168.2,755.5 168.6,778.3 169.0,757.7 169.4,775.1 169.8,760.3 170.2,778.4 170.6,757.2 171.0,779.7 171.4,762.6 171.8,779.8 172.2,755.9 172.6,772.3 173.0,750.7 173.4,769.0 173.8,751.1 174.2,768.1 174.6,751.5 175.0,772.7 175.4,759.3 175.8,783.0 176.2,767.8 176.6,784.8 177.0,769.7 177.4,788.5 177.8,764.7 178.2,788.2 178.6,768.9 179.0,787.5 179.4,764.5 179.8,783.6 180.2,761.8 180.6,781.1 181.0,758.1 181.4,782.9 181.8,761.6 182.2,787.1 182.6,774.4 183.0,794.8 183.4,777.6 183.8,802.2 184.2,785.0 184.6,807.2 185.0,787.0 185.4,806.2 185.8,785.0 186.2,809.7 186.6,784.7 187.0,800.0 187.4,781.7 187.8,805.6 188.2,782.0 188.6,806.1 189.0,783.4 189.4,808.2 189.8,786.5 190.2,811.8 190.6,785.2 191.0,806.1 191.4,781.5 191.8,806.3 192.2,780.6 192.6,805.4 193.0,783.1 193.4,807.2 193.8,786.1 194.2,801.2 194.6,781.2 195.0,804.2 195.4,783.7 195.8,798.2 196.2,774.0 196.6,793.8 197.0,770.6 197.4,789.8 197.8,770.9 198.2,788.1 198.6,769.9 199.0,795.6 199.4,776.4 199.8,795.7 200.2,775.2 200.6,794.8 201.0,775.2 201.4,790.8 201.8,773.6 202.2,790.2 202.6,773.8 203.0,790.7 203.4,770.6 203.8,791.8 204.2,777.6 204.6,802.1 205.0,785.4 205.4,803.7 205.8,788.1 206.2,807.4 206.6,791.2 207.0,811.6 207.4,789.7 207.8,807.3 208.2,786.1 208.6,799.9 209.0,776.3 209.4,795.3 209.8,772.0 210.2,792.9 210.6,774.0 211.0,792.9 211.4,771.5 211.8,789.6 212.2,770.0 212.6,789.9 213.0,770.5 213.4,788.9 213.8,766.0 214.2,784.1 214.6,764.7 215.0,779.0 215.4,760.4 215.8,777.0 216.2,752.7 216.6,767.5 217.0,748.3 217.4,769.0 217.8,747.8 218.2,767.8 218.6,755.0 219.0,769.9 219.4,758.0 219.8,777.8 220.2,759.0 220.6,773.2 221.0,757.9 221.4,774.6 221.8,758.6 222.2,773.4 222.6,756.1 223.0,771.1 223.4,759.6 223.8,777.2 224.2,762.3 224.6,782.1 225.0,757.5 225.4,774.9 225.8,758.6 226.2,776.4 226.6,763.8 227.0,779.4 227.4,771.5 227.8,785.8 228.2,771.3 228.6,789.9 229.0,771.8 229.4,787.4 229.8,771.4 230.2,784.0 230.6,768.6 231.0,783.7 231.4,766.0 231.8,778.4 232.2,760.6 232.6,780.0 233.0,761.6 233.4,772.2 233.8,755.6 234.2,769.5 234.6,753.7 235.0,774.0 235.4,754.8 235.8,770.5 236.2,756.0 236.6,774.3 237.0,756.5 237.4,775.8 237.8,764.3 238.2,781.8 238.6,771.7 239.0,786.5 239.4,766.8 239.8,777.2 240.2,755.1 240.6,770.9 241.0,747.2 241.4,762.2 241.8,748.2 242.2,766.5 242.6,752.5 243.0,772.2 243.4,754.7 243.8,776.4 244.2,761.5 244.6,782.0 245.0,768.0 245.4,784.6 245.8,769.4 246.2,785.8 246.6,762.6 247.0,780.8 247.4,756.8 247.8,775.1 248.2,755.7 248.6,773.2 249.0,753.9 249.4,774.2 249.8,757.1 250.2,780.1 250.6,753.2 251.0,781.7 251.4,768.7 251.8,786.0 252.2,762.5 252.6,780.9 253.0,763.1 253.4,775.9 253.8,757.2 254.2,774.6 254.6,754.1 255.0,774.3 255.4,759.3 255.8,778.8 256.2,760.4 256.6,785.5 257.0,765.8 257.4,783.8 257.8,767.6 258.2,792.6 258.6,768.5 259.0,787.9 259.4,772.4 259.8,791.7 260.2,760.7 260.6,793.9 261.0,768.1 261.4,786.3 261.8,765.5 262.2,780.9 262.6,764.2 263.0,780.8 263.4,761.1 263.8,775.0 264.2,756.1 264.6,780.0 265.0,747.7 265.4,767.3 265.8,747.1 266.2,768.5 266.6,744.9 267.0,762.5 267.4,744.2 267.8,760.9 268.2,741.6 268.6,767.7 269.0,748.9 269.4,771.5 269.8,748.6 270.2,773.5 270.6,753.6 271.0,777.1 271.4,748.9 271.8,773.5 272.2,745.9 272.6,765.2 273.0,741.3 273.4,760.4 273.8,740.0 274.2,762.1 274.6,740.7 275.0,772.5 275.4,747.5 275.8,770.3 276.2,748.7 276.6,766.4 277.0,741.7 277.4,759.6 277.8,741.1 278.2,764.7 278.6,742.7 279.0,765.1 279.4,750.9 279.8,769.1 280.2,748.8 280.6,779.8 281.0,749.8 281.4,773.8 281.8,749.6 282.2,767.7 282.6,739.2 283.0,766.2 283.4,738.8 283.8,761.9 284.2,743.2 284.6,769.0 285.0,747.6 285.4,771.7 285.8,747.7 286.2,769.2 286.6,746.5 287.0,771.0 287.4,749.5 287.8,768.1 288.2,750.6 288.6,779.5 289.0,751.7 289.4,778.0 289.8,748.9 290.2,770.8 290.6,745.9 291.0,769.1 291.4,743.6 291.8,765.8 292.2,745.8 292.6,773.6 293.0,757.4 293.4,778.8 293.8,758.9 294.2,782.4 294.6,752.0 295.0,777.7 295.4,751.2 295.8,774.5 296.2,747.2 296.6,770.8 297.0,747.1 297.4,767.8 297.8,743.0 298.2,762.3 298.6,739.6 299.0,758.1 299.4,735.4 299.8,754.1 300.2,734.0 300.6,758.8 301.0,729.5 301.4,756.1 301.8,741.5 302.2,769.1 302.6,752.2 303.0,778.9 303.4,757.3 303.8,777.8 304.2,757.6 304.6,772.7 305.0,749.3 305.4,773.8 305.8,744.9 306.2,773.7 306.6,751.8 307.0,776.3 307.4,755.2 307.8,773.9 308.2,751.6 308.6,769.6 309.0,744.7 309.4,770.8 309.8,744.5 310.2,766.9 310.6,744.5 311.0,770.5 311.4,751.6 311.8,778.2 312.2,755.2 312.6,774.8 313.0,756.7 313.4,777.3 313.8,750.6 314.2,775.3 314.6,749.5 315.0,778.0 315.4,751.0 315.8,774.8 316.2,755.6 316.6,774.7 317.0,757.8 317.4,782.5 317.8,753.4 318.2,795.0 318.6,742.2 319.0,779.8 319.4,745.3 319.8,773.0 320.2,749.7 320.6,774.4 321.0,752.4 321.4,773.0 321.8,747.7 322.2,771.3 322.6,748.9 323.0,764.4 323.4,743.4 323.8,765.5 324.2,738.6 324.6,764.2 325.0,740.3 325.4,764.6 325.8,746.7 326.2,774.6 326.6,744.8 327.0,774.5 327.4,746.8 327.8,771.5 328.2,748.2 328.6,771.5 329.0,750.9 329.4,780.8 329.8,758.3 330.2,782.0 330.6,759.8 331.0,779.4 331.4,753.2 331.8,783.4 332.2,747.4 332.6,771.5 333.0,750.2 333.4,766.8 333.8,748.8 334.2,770.2 334.6,744.9 335.0,774.3 335.4,746.9 335.8,771.8 336.2,746.2 336.6,770.3 337.0,744.3 337.4,777.3 337.8,751.0 338.2,781.2 338.6,760.7 339.0,782.2 339.4,762.6 339.8,788.3 340.2,760.8 340.6,787.0 341.0,754.9 341.4,780.7 341.8,755.8 342.2,780.4 342.6,752.3 343.0,776.0 343.4,751.5 343.8,771.4 344.2,752.6 344.6,777.8 345.0,747.0 345.4,780.8 345.8,759.6 346.2,780.6 346.6,765.3 347.0,790.4 347.4,767.7 347.8,791.1 348.2,768.2 348.6,796.4 349.0,765.0 349.4,792.2 349.8,759.5 350.2,782.0 350.6,755.8 351.0,778.9 351.4,748.2 351.8,781.1 352.2,743.7 352.6,779.3 353.0,747.6 353.4,775.2 353.8,756.7 354.2,783.7 354.6,754.2 355.0,783.4 355.4,758.8 355.8,791.6 356.2,768.9 356.6,798.9 357.0,771.0 357.4,806.8 357.8,775.0 358.2,801.5 358.6,765.8 359.0,797.6 359.4,771.6 359.8,797.8 360.2,776.5 360.6,804.5 361.0,778.8 361.4,803.0 361.8,775.7 362.2,800.2 362.6,768.1 363.0,796.4 363.4,759.1 363.8,785.3 364.2,755.3 364.6,780.4 365.0,758.4 365.4,786.1 365.8,754.4 366.2,782.5 366.6,758.0 367.0,789.8 367.4,767.1 367.8,790.0 368.2,763.5 368.6,791.9 369.0,764.6 369.4,793.6 369.8,760.3 370.2,792.4 370.6,765.9 371.0,795.2 371.4,757.5 371.8,790.8 372.2,773.2 372.6,789.9 373.0,765.2 373.4,795.9 373.8,766.3 374.2,790.2 374.6,763.3 375.0,788.5 375.4,767.9 375.8,799.4 376.2,764.3 376.6,789.0 377.0,763.5 377.4,790.9 377.8,766.5 378.2,796.6 378.6,771.0 379.0,795.6 379.4,762.9 379.8,794.1 380.2,741.9 380.6,788.1 381.0,761.4 381.4,786.6 381.8,764.6 382.2,795.9 382.6,772.3 383.0,815.9 383.4,782.0 383.8,807.4 384.2,785.8 384.6,818.5 385.0,776.6 385.4,804.2 385.8,781.4 386.2,811.9 386.6,778.0 387.0,812.0 387.4,771.2 387.8,795.2 388.2,766.6 388.6,786.2 389.0,765.4 389.4,789.6 389.8,762.9 390.2,796.3 390.6,767.5 391.0,793.9 391.4,771.0 391.8,796.5 392.2,764.0 392.6,800.9 393.0,780.7 393.4,806.4 393.8,783.9 394.2,807.3 394.6,776.0 395.0,798.1 395.4,772.3 395.8,802.9 396.2,771.0 396.6,796.9 397.0,776.1 397.4,796.7 397.8,770.7 398.2,794.7 398.6,768.1 399.0,791.1 399.4,771.8 399.8,794.9 400.2,771.8 400.6,794.3 401.0,773.0 401.4,794.8 401.8,779.0 402.2,796.6 402.6,777.8 403.0,793.7 403.4,778.4 403.8,794.7 404.2,776.8 404.6,799.2 405.0,776.0 405.4,791.7 405.8,770.6 406.2,790.8 406.6,766.1 407.0,784.4 407.4,765.8 407.8,785.0 408.2,767.3 408.6,783.9 409.0,767.6 409.4,787.2 409.8,769.7 410.2,792.6 410.6,772.4 411.0,788.7 411.4,772.0 411.8,789.3 412.2,767.0 412.6,788.3 413.0,770.8 413.4,787.0 413.8,768.7 414.2,794.1 414.6,768.1 415.0,790.4 415.4,771.9 415.8,790.9 416.2,767.7 416.6,787.8 417.0,762.8 417.4,787.8 417.8,765.2 418.2,783.4 418.6,766.4 419.0,779.9 419.4,767.0 419.8,781.5 420.2,800.0 420.6,792.2 421.0,774.7 421.4,794.0 421.8,776.5 422.2,793.3 422.6,777.2 423.0,792.6 423.4,771.3 423.8,787.8 424.2,768.6 424.6,785.1 425.0,769.4 425.4,786.9 425.8,766.4 426.2,781.4 426.6,765.8 427.0,782.1 427.4,766.7 427.8,786.6 428.2,766.5 428.6,788.8 429.0,763.4 429.4,782.4 429.8,762.8 430.2,782.4 430.6,762.7 431.0,784.0 431.4,765.0 431.8,779.7 432.2,765.6 432.6,778.3 433.0,812.0 433.4,779.4 433.8,759.9 434.2,777.7 434.6,758.8 435.0,771.8 435.4,761.0 435.8,771.8 436.2,756.8 436.6,777.8 437.0,756.5 437.4,772.6 437.8,755.4 438.2,772.1 438.6,757.5 439.0,770.1 439.4,757.7 439.8,770.9 440.2,758.5 440.6,776.3 441.0,760.2 441.4,774.3 441.8,757.9 442.2,768.7 442.6,748.9 443.0,772.0 443.4,753.2 443.8,768.1 444.2,751.0 444.6,768.9 445.0,753.6 445.4,770.4 445.8,752.1 446.2,765.6 446.6,750.8 447.0,768.7 447.4,752.1 447.8,767.5 448.2,754.9 448.6,772.1 449.0,758.9 449.4,771.4 449.8,758.1 450.2,769.4 450.6,754.8 451.0,767.8 451.4,753.6 451.8,770.0 452.2,754.2 452.6,767.5 453.0,755.8 453.4,769.0 453.8,751.7 454.2,766.6 454.6,751.1 455.0,763.0 455.4,749.0 455.8,764.6 456.2,752.3 456.6,764.0 457.0,749.0 457.4,764.2 457.8,747.8 458.2,757.7 458.6,743.9 459.0,761.5 459.4,741.9 459.8,758.5 460.2,733.7 460.6,755.7 461.0,742.8 461.4,760.2 461.8,743.6 462.2,760.7 462.6,745.9 463.0,757.3 463.4,746.5 463.8,754.4 464.2,741.0 464.6,754.7 465.0,740.1 465.4,752.2 465.8,738.5 466.2,750.9 466.6,735.2 467.0,750.7 467.4,736.7 467.8,748.3 468.2,737.5 468.6,748.4 469.0,734.4 469.4,746.3 469.8,734.3 470.2,746.6 470.6,732.0 471.0,743.5 471.4,729.8 471.8,741.3 472.2,728.2 472.6,739.6 473.0,726.8 473.4,737.2 473.8,725.8 474.2,735.3 474.6,722.4 475.0,732.1 475.4,721.3 475.8,731.5 476.2,717.2 476.6,728.4 477.0,718.9 477.4,726.4 477.8,714.9 478.2,720.9 478.6,711.1 479.0,720.1 479.4,709.4 479.8,716.9 480.2,704.9 480.6,711.6 481.0,701.8 481.4,708.3 481.8,699.2 482.2,704.7 482.6,696.2 483.0,702.6 483.4,691.9 483.8,697.9 484.2,690.3 484.6,694.4 485.0,686.6 485.4,689.4 485.8,681.7 486.2,683.8 486.6,674.4 487.0,676.4 487.4,667.5 487.8,669.6 488.2,659.6 488.6,662.1 489.0,653.7 489.4,654.9 489.8,647.4 490.2,645.6 490.6,635.0 491.0,632.0 491.4,622.2 491.8,619.3 492.2,610.3 492.6,607.8 493.0,598.1 493.4,594.8 493.8,592.9 494.2,601.1 494.6,605.4 495.0,614.4 495.4,617.8 495.8,627.5 496.2,630.4 496.6,641.3 497.0,642.9 497.4,653.3 497.8,651.2 498.2,661.0 498.6,658.9 499.0,667.6 499.4,666.7 499.8,675.4 500.2,672.8 500.6,682.0 501.0,679.7 501.4,690.2 501.8,686.2 502.2,692.8 502.6,687.8 503.0,696.2 503.4,691.1 503.8,699.0 504.2,693.9 504.6,703.5 505.0,697.2 505.4,706.8 505.8,701.3 506.2,709.9 506.6,703.0 507.0,713.0 507.4,706.1 507.8,716.5 508.2,709.2 508.6,719.2 509.0,714.3 509.4,721.7 509.8,713.8 510.2,722.4 510.6,714.8 511.0,726.6 511.4,717.5 511.8,727.1 512.2,719.0 512.6,728.7 513.0,721.6 513.4,730.3 513.8,721.4 514.2,731.8 514.6,722.3 515.0,732.7 515.4,723.8 515.8,733.6 516.2,724.9 516.6,734.2 517.0,727.5 517.4,738.4 517.8,728.7 518.2,738.0 518.6,730.7 519.0,742.4 519.4,733.4 519.8,743.3 520.2,735.0 520.6,742.0 521.0,735.2 521.4,745.2 521.8,734.8 522.2,747.0 522.6,737.9 523.0,745.4 523.4,738.6 523.8,749.9 524.2,738.0 524.6,750.0 525.0,738.0 525.4,750.0 525.8,740.4 526.2,752.5 526.6,739.4 527.0,752.0 527.4,742.4 527.8,755.9 528.2,743.9 528.6,756.3 529.0,743.4 529.4,758.2 529.8,746.3 530.2,758.9 530.6,746.4 531.0,760.2 531.4,749.1 531.8,757.9 532.2,745.5 532.6,758.5 533.0,747.0 533.4,760.4 533.8,747.7 534.2,759.7 534.6,749.0 535.0,760.0 535.4,749.5 535.8,763.3 536.2,751.6 536.6,763.5 537.0,751.7 537.4,762.9 537.8,748.8 538.2,766.3 538.6,751.5 539.0,764.2 539.4,752.7 539.8,764.3 540.2,750.0 540.6,765.3 541.0,748.9 541.4,763.8 541.8,752.9 542.2,763.8 542.6,753.4 543.0,764.4 543.4,751.5 543.8,767.9 544.2,755.3 544.6,770.8 545.0,758.0 545.4,771.3 545.8,757.4 546.2,773.8 546.6,759.7 547.0,777.3 547.4,757.6 547.8,771.4 548.2,757.6 548.6,775.3 549.0,762.1 549.4,777.3 549.8,758.4 550.2,774.1 550.6,762.4 551.0,772.5 551.4,760.3 551.8,775.6 552.2,761.4 552.6,773.2 553.0,761.3 553.4,772.8 553.8,760.2 554.2,773.9 554.6,759.5 555.0,775.5 555.4,764.7 555.8,778.4 556.2,765.0 556.6,785.5 557.0,764.6 557.4,777.8 557.8,766.5 558.2,779.5 558.6,763.3 559.0,778.6 559.4,761.9 559.8,780.4 560.2,760.5 560.6,779.1 561.0,762.1 561.4,784.7 561.8,762.6 562.2,782.3 562.6,763.8 563.0,780.2 563.4,768.3 563.8,780.8 564.2,764.9 564.6,784.5 565.0,765.4 565.4,784.7 565.8,769.2 566.2,784.3 566.6,770.4 567.0,782.4 567.4,770.6 567.8,786.8 568.2,767.2 568.6,783.7 569.0,768.2 569.4,784.5 569.8,769.1 570.2,785.6 570.6,769.2 571.0,786.7 571.4,770.1 571.8,786.9 572.2,770.7 572.6,784.9 573.0,766.0 573.4,786.9 573.8,766.2 574.2,785.3 574.6,770.6 575.0,785.4 575.4,770.1 575.8,794.7 576.2,774.7 576.6,792.2 577.0,771.0 577.4,794.0 577.8,775.2 578.2,791.1 578.6,776.0 579.0,794.0 579.4,773.3 579.8,792.0 580.2,774.9 580.6,790.6 581.0,771.4 581.4,792.2 581.8,768.9 582.2,787.1 582.6,768.8 583.0,788.4 583.4,769.6 583.8,787.6 584.2,770.8 584.6,793.5 585.0,775.1 585.4,795.6 585.8,773.5 586.2,795.0 586.6,773.7 587.0,794.4 587.4,770.8 587.8,793.6 588.2,774.2 588.6,793.1 589.0,775.9 589.4,795.8 589.8,772.5 590.2,798.5 590.6,775.6 591.0,795.1 591.4,781.8 591.8,801.9 592.2,781.6 592.6,796.6 593.0,775.0 593.4,796.8 593.8,775.9 594.2,798.3 594.6,776.7 595.0,799.1 595.4,778.7 595.8,794.4 596.2,778.7 596.6,798.3 597.0,775.8 597.4,807.5 597.8,778.8 598.2,804.4 598.6,779.3 599.0,800.6 599.4,779.1 599.8,807.0 600.2,785.9 600.6,807.6 601.0,786.3 601.4,803.1 601.8,785.2 602.2,806.4 602.6,780.6 603.0,803.5 603.4,780.1 603.8,806.8 604.2,785.9 604.6,804.9 605.0,784.1 605.4,806.1 605.8,783.9 606.2,806.0 606.6,785.3 607.0,802.2 607.4,781.6 607.8,806.7 608.2,782.2 608.6,811.7 609.0,788.5 609.4,807.3 609.8,788.4 610.2,805.3 610.6,783.7 611.0,813.0 611.4,790.8 611.8,808.1 612.2,791.7 612.6,811.6 613.0,792.4 613.4,807.8 613.8,784.4 614.2,813.8 614.6,785.9 615.0,806.4 615.4,789.5 615.8,811.1 616.2,792.1 616.6,816.1 617.0,790.0 617.4,817.9 617.8,795.3 618.2,816.8 618.6,793.5 619.0,827.9 619.4,795.7 619.8,818.1 620.2,789.2 620.6,820.0 621.0,787.9 621.4,816.2 621.8,790.0 622.2,812.4 622.6,787.2 623.0,812.6 623.4,789.4 623.8,822.1 624.2,784.7 624.6,821.7 625.0,786.0 625.4,821.6 625.8,788.9 626.2,841.6 626.6,788.8 627.0,821.1 627.4,791.2 627.8,821.7 628.2,791.8 628.6,824.8 629.0,793.3 629.4,825.0 629.8,793.4 630.2,829.7 630.6,796.2 631.0,828.6 631.4,790.1 631.8,827.4 632.2,792.4 632.6,827.0 633.0,791.8 633.4,830.3 633.8,791.2 634.2,832.3 634.6,793.5 635.0,833.4 635.4,793.8 635.8,826.0 636.2,797.0 636.6,828.0 637.0,793.5 637.4,832.8 637.8,795.5 638.2,836.0 638.6,802.1 639.0,832.4 639.4,795.7 639.8,850.3 640.2,790.9 640.6,835.4 641.0,796.1 641.4,829.9 641.8,801.6 642.2,827.2 642.6,797.5 643.0,826.8 643.4,799.7 643.8,833.1 644.2,796.8 644.6,850.2 645.0,796.3 645.4,847.1 645.8,803.5 646.2,839.5 646.6,797.0 647.0,832.0 647.4,803.6 647.8,832.0 648.2,798.3 648.6,838.3 649.0,799.2 649.4,842.0 649.8,802.7 650.2,839.4 650.6,802.3 651.0,846.1 651.4,805.2 651.8,851.7 652.2,804.2 652.6,847.6 653.0,812.9 653.4,847.8 653.8,811.0 654.2,853.8 654.6,813.9 655.0,853.2 655.4,812.1 655.8,847.6 656.2,800.4 656.6,846.4 657.0,797.0 657.4,848.9 657.8,807.4 658.2,839.8 658.6,802.5 659.0,849.1 659.4,801.9 659.8,844.4 660.2,803.7 660.6,849.9 661.0,804.5 661.4,843.4 661.8,811.9 662.2,851.0 662.6,802.0 663.0,852.5 663.4,800.7 663.8,844.0 664.2,811.8 664.6,842.0 665.0,805.2 665.4,847.9 665.8,811.3 666.2,853.2 666.6,801.9 667.0,852.5 667.4,800.6 667.8,850.5 668.2,804.1 668.6,853.9 669.0,801.2 669.4,856.9 669.8,806.2 670.2,881.0 670.6,811.3 671.0,857.6 671.4,811.9 671.8,853.0 672.2,801.6 672.6,855.5 673.0,803.0 673.4,851.4 673.8,802.2 674.2,858.0 674.6,802.9 675.0,854.9 675.4,807.1 675.8,863.8 676.2,812.3 676.6,859.5 677.0,811.1 677.4,857.5 677.8,811.8 678.2,854.6 678.6,820.1 679.0,863.9 679.4,818.5 679.8,851.0 680.2,807.5 680.6,855.5 681.0,812.9 681.4,862.3 681.8,802.8 682.2,892.5 682.6,811.0 683.0,854.5 683.4,803.2 683.8,860.2 684.2,806.6 684.6,861.3 685.0,809.1 685.4,859.1 685.8,805.8 686.2,857.4 686.6,818.0 687.0,863.1 687.4,810.7 687.8,853.7 688.2,806.7 688.6,860.0 689.0,804.5 689.4,864.2 689.8,805.6 690.2,861.2 690.6,803.2 691.0,855.8 691.4,815.3 691.8,863.8 692.2,808.9 692.6,854.1 693.0,805.4 693.4,858.3 693.8,805.7 694.2,865.0 694.6,803.5 695.0,856.5 695.4,806.7 695.8,863.4 696.2,811.2 696.6,915.7 697.0,806.9 697.4,856.2 697.8,823.8 698.2,867.7 698.6,810.1 699.0,868.7 699.4,821.2 699.8,871.0 700.2,824.5 700.6,864.6 701.0,809.4 701.4,859.1 701.8,815.8 702.2,856.9 702.6,807.2 703.0,863.3 703.4,820.2 703.8,869.4 704.2,815.4 704.6,857.4 705.0,813.8 705.4,861.3 705.8,811.5 706.2,873.0 706.6,818.4 707.0,871.3 707.4,821.4 707.8,876.6 708.2,827.3 708.6,866.9 709.0,812.2 709.4,874.3 709.8,811.7 710.2,867.4 710.6,819.1 711.0,879.6 711.4,828.4 711.8,871.5 712.2,825.5 712.6,876.7 713.0,829.7 713.4,874.4 713.8,828.3 714.2,876.3 714.6,819.2 715.0,866.9 715.4,812.6 715.8,934.1 716.2,823.8 716.6,868.1 717.0,814.1 717.4,877.1 717.8,819.6 718.2,867.9 718.6,811.4 719.0,866.4 719.4,814.5 719.8,861.5 720.2,814.0 720.6,873.9 721.0,811.3 721.4,872.4 721.8,820.6 722.2,865.2 722.6,822.0 723.0,875.5 723.4,816.8 723.8,878.0 724.2,820.0 724.6,883.4 725.0,818.8 725.4,872.6 725.8,818.8 726.2,879.2 726.6,822.0 727.0,924.5 727.4,819.8 727.8,882.1 728.2,819.3 728.6,867.2 729.0,819.5 729.4,878.1 729.8,821.6 730.2,881.2 730.6,817.5 731.0,882.8 731.4,815.5 731.8,876.0 732.2,825.1 732.6,870.2 733.0,826.9 733.4,905.0 733.8,825.1 734.2,887.1 734.6,833.9 735.0,878.8 735.4,818.8 735.8,875.2 736.2,821.1 736.6,885.2 737.0,825.6 737.4,871.8 737.8,827.8 738.2,882.5 738.6,823.5 739.0,887.8 739.4,819.9 739.8,878.4 740.2,831.7 740.6,885.7 741.0,825.9 741.4,873.5 741.8,829.4 742.2,883.0 742.6,815.5 743.0,871.0 743.4,816.8 743.8,878.7 744.2,824.8 744.6,877.3 745.0,831.5 745.4,890.6 745.8,830.6 746.2,880.9 746.6,832.1 747.0,873.2 747.4,829.6 747.8,884.6 748.2,831.7 748.6,874.1 749.0,825.5 749.4,882.2 749.8,821.4 750.2,873.0 750.6,820.8 751.0,889.7 751.4,827.6 751.8,885.1 752.2,827.3 752.6,873.7 753.0,818.4 753.4,890.6 753.8,830.7 754.2,877.8 754.6,837.6 755.0,890.7 755.4,832.4 755.8,893.7 756.2,823.1 756.6,893.9 757.0,825.8 757.4,895.1 757.8,831.6 758.2,888.0 758.6,825.1 759.0,890.4 759.4,823.8 759.8,915.4 760.2,825.8 760.6,894.6 761.0,840.5 761.4,895.7 761.8,839.3 762.2,883.0 762.6,835.5 763.0,887.8 763.4,843.0 763.8,884.0 764.2,839.3 764.6,892.9 765.0,833.5 765.4,901.5 765.8,837.7 766.2,889.4 766.6,845.3 767.0,901.1 767.4,829.0 767.8,935.5 768.2,828.8 768.6,888.0 769.0,831.4 769.4,895.4 769.8,824.4 770.2,878.9 770.6,831.6 771.0,889.4 771.4,828.0 771.8,882.7 772.2,822.9 772.6,891.2 773.0,838.1 773.4,883.0 773.8,834.1 774.2,894.3 774.6,831.2 775.0,894.9 775.4,828.2 775.8,892.2 776.2,841.2 776.6,885.9 777.0,827.2 777.4,889.8 777.8,829.8 778.2,898.8 778.6,827.7 779.0,889.0 779.4,832.2 779.8,890.3 780.2,827.0 780.6,891.0 781.0,832.1 781.4,888.2 781.8,819.5 782.2,876.8 782.6,821.8 783.0,877.9 783.4,832.3 783.8,878.2 784.2,828.3 784.6,884.0 785.0,836.0 785.4,888.4 785.8,818.5 786.2,873.6 786.6,816.5 787.0,880.9 787.4,823.3 787.8,887.4 788.2,817.6 788.6,883.4 789.0,822.0 789.4,887.6 789.8,825.7 790.2,888.6 790.6,819.8 791.0,873.1 791.4,830.6 791.8,884.3 792.2,830.9 792.6,886.2 793.0,834.0 793.4,882.4 793.8,837.8 794.2,895.7 794.6,828.2 795.0,935.5 795.4,830.0 795.8,877.6 796.2,829.0 796.6,876.3 797.0,836.0 797.4,877.7 797.8,832.3 798.2,886.9 798.6,829.7 799.0,879.2 799.4,823.9 799.8,879.0 800.2,823.4 800.6,868.4 801.0,822.1 801.4,876.2 801.8,827.1 802.2,882.9 802.6,821.0 803.0,869.8 803.4,819.4 803.8,880.7 804.2,823.9 804.6,878.3 805.0,823.4 805.4,881.6 805.8,819.2 806.2,882.2 806.6,822.0 807.0,876.5 807.4,823.6 807.8,868.3 808.2,822.5 808.6,881.6 809.0,823.7 809.4,876.0 809.8,820.0 810.2,877.3 810.6,820.1 811.0,879.0 811.4,823.7 811.8,919.8 812.2,820.5 812.6,867.8 813.0,819.3 813.4,879.9 813.8,820.5 814.2,867.7 814.6,821.4 815.0,881.0 815.4,817.2 815.8,873.4 816.2,817.3 816.6,881.0 817.0,816.5 817.4,871.1 817.8,826.2 818.2,864.3 818.6,811.3 819.0,865.4 819.4,825.1 819.8,862.2 820.2,824.7 820.6,865.4 821.0,813.9 821.4,874.8 821.8,822.0 822.2,869.3 822.6,824.1 823.0,863.0 823.4,828.4 823.8,868.1 824.2,830.3 824.6,875.4 825.0,823.5 825.4,872.8 825.8,823.8 826.2,875.6 826.6,823.7 827.0,874.8 827.4,823.3 827.8,867.2 828.2,822.4 828.6,868.0 829.0,818.7 829.4,899.2 829.8,815.8 830.2,863.8 830.6,817.7 831.0,872.0 831.4,818.1 831.8,875.8 832.2,824.2 832.6,861.7 833.0,824.8 833.4,867.4 833.8,825.4 834.2,860.9 834.6,820.7 835.0,871.1 835.4,814.9 835.8,859.2 836.2,814.3 836.6,870.6 837.0,815.9 837.4,855.7 837.8,821.5 838.2,858.5 838.6,823.0 839.0,859.6 839.4,820.5 839.8,861.4 840.2,809.6 840.6,853.0 841.0,816.9 841.4,860.3 841.8,821.0 842.2,866.1 842.6,817.3 843.0,859.0 843.4,818.1 843.8,868.2 844.2,816.3 844.6,864.6 845.0,816.6 845.4,867.3 845.8,823.1 846.2,858.1 846.6,820.0 847.0,865.7 847.4,822.4 847.8,866.6 848.2,819.6 848.6,860.0 849.0,825.4 849.4,860.2 849.8,814.4 850.2,862.7 850.6,821.6 851.0,865.3 851.4,824.7 851.8,865.9 852.2,816.8 852.6,851.3 853.0,811.1 853.4,858.7 853.8,807.2 854.2,858.9 854.6,806.9 855.0,855.1 855.4,809.7 855.8,859.4 856.2,819.0 856.6,852.1 857.0,815.3 857.4,848.6 857.8,807.0 858.2,852.7 858.6,813.9 859.0,861.1 859.4,816.7 859.8,861.2 860.2,815.6 860.6,859.7 861.0,823.9 861.4,853.5 861.8,813.3 862.2,856.9 862.6,817.8 863.0,868.8 863.4,820.2 863.8,859.8 864.2,814.7 864.6,850.1 865.0,810.8 865.4,858.2 865.8,811.3 866.2,873.6 866.6,820.7 867.0,858.4 867.4,818.4 867.8,876.6 868.2,818.9 868.6,849.4 869.0,817.6 869.4,852.8 869.8,818.2 870.2,851.4 870.6,811.8 871.0,842.5 871.4,817.2 871.8,846.9 872.2,809.2 872.6,847.9 873.0,808.1 873.4,853.4 873.8,809.4 874.2,855.8 874.6,819.3 875.0,850.7 875.4,819.1 875.8,846.9 876.2,814.7 876.6,842.2 877.0,816.0 877.4,847.7 877.8,806.7 878.2,841.3 878.6,808.4 879.0,842.4 879.4,811.3 879.8,847.4 880.2,810.8 880.6,841.2 881.0,811.0 881.4,840.9 881.8,812.6 882.2,844.3 882.6,810.0 883.0,838.5 883.4,809.0 883.8,840.6 884.2,814.2 884.6,835.4 885.0,803.9 885.4,840.0 885.8,806.0 886.2,841.4 886.6,806.1 887.0,838.5 887.4,806.9 887.8,839.6 888.2,803.9 888.6,834.5 889.0,804.8 889.4,832.7 889.8,807.2 890.2,832.7 890.6,801.5 891.0,830.0 891.4,806.7 891.8,825.9 892.2,802.2 892.6,835.4 893.0,808.2 893.4,833.6 893.8,803.3 894.2,826.5 894.6,800.6 895.0,831.0 895.4,803.7 895.8,831.9 896.2,803.3 896.6,825.7 897.0,805.8 897.4,824.2 897.8,800.2 898.2,824.0 898.6,799.0 899.0,827.2 899.4,802.2 899.8,820.5 900.2,801.6 900.6,819.3 901.0,802.3 901.4,822.1 901.8,798.3 902.2,824.8 902.6,798.5 903.0,818.3 903.4,798.1 903.8,823.2 904.2,804.3 904.6,822.1 905.0,801.0 905.4,817.9 905.8,797.1 906.2,820.4 906.6,800.0 907.0,818.9 907.4,797.8 907.8,816.0 908.2,799.1 908.6,814.7 909.0,794.0 909.4,815.2 909.8,797.4 910.2,814.5 910.6,796.8 911.0,810.9 911.4,792.8 911.8,808.3 912.2,792.1 912.6,811.5 913.0,794.1 913.4,813.5 913.8,785.8 914.2,800.3 914.6,783.8 915.0,795.8 915.4,779.9 915.8,792.3 916.2,778.1 916.6,790.6 917.0,773.4 917.4,783.7 917.8,768.9 918.2,780.2 918.6,767.8 919.0,776.0 919.4,763.1 919.8,770.6 920.2,757.8 920.6,762.0 921.0,749.7 921.4,751.2 921.8,739.1 922.2,742.8 922.6,731.3 923.0,733.9 923.4,722.4 923.8,722.7 924.2,714.3 924.6,715.0 925.0,706.1 925.4,706.9 925.8,699.3 926.2,697.6 926.6,690.8 927.0,689.6 927.4,691.1 927.8,699.2 928.2,698.8 928.6,707.8 929.0,706.2 929.4,717.8 929.8,715.1 930.2,726.5 930.6,723.1 931.0,740.9 931.4,733.4 931.8,755.8 932.2,746.3 932.6,769.0 933.0,755.2 933.4,782.3 933.8,768.4 934.2,794.5 934.6,772.4 935.0,813.8 935.4,779.2 935.8,815.0 936.2,784.8 936.6,833.7 937.0,779.1 937.4,829.8 937.8,789.3 938.2,834.5 938.6,782.1 939.0,851.7 939.4,795.9 939.8,846.7 940.2,802.3 940.6,865.5 941.0,800.0 941.4,882.6 941.8,803.9 942.2,885.6 942.6,809.7 943.0,896.0 943.4,810.0 943.8,888.4 944.2,807.7 944.6,924.1 945.0,817.0 945.4,896.2 945.8,817.4 946.2,914.1 946.6,823.6 947.0,908.3 947.4,801.7 947.8,909.6 948.2,820.0 948.6,909.9 949.0,820.1 949.4,927.8 949.8,814.4 950.2,900.4 950.6,830.6 951.0,926.6 951.4,830.6 951.8,928.1 952.2,823.2 952.6,920.5 953.0,806.8 953.4,912.0 953.8,832.1 954.2,921.9 954.6,833.9 955.0,924.2 955.4,840.1 955.8,928.3 956.2,811.7 956.6,915.5 957.0,816.3 957.4,926.8 957.8,821.4 958.2,928.5 958.6,814.2 959.0,934.6 959.4,839.3 959.8,935.5 960.2,822.0 960.6,927.3 961.0,823.7 961.4,935.5 961.8,847.8 962.2,932.7 962.6,832.5 963.0,914.1 963.4,836.7 963.8,923.4 964.2,834.5 964.6,929.8 965.0,837.7 965.4,935.5 965.8,820.9 966.2,918.0 966.6,812.2 967.0,902.1 967.4,830.6 967.8,924.2 968.2,826.3 968.6,934.2 969.0,804.8 969.4,914.8 969.8,829.9 970.2,914.6 970.6,822.9 971.0,925.8 971.4,824.0 971.8,932.5 972.2,817.1 972.6,914.3 973.0,819.6 973.4,932.6 973.8,840.6 974.2,935.5 974.6,837.3 975.0,915.3 975.4,843.3 975.8,922.2 976.2,833.1 976.6,911.3 977.0,846.1 977.4,935.5 977.8,826.8 978.2,916.1 978.6,846.0" fill="none" stroke="#199F4A" stroke-width="1.5" stroke-linejoin="round"/>
<rect x="60.5" y="444.2" width="918.2" height="491.3" fill="none" stroke="#231F20" stroke-width="2.5"/>
<path d="M60.5 493.3h10.5M978.7 493.3h-10.5M60.5 542.5h10.5M978.7 542.5h-10.5M60.5 591.6h10.5M978.7 591.6h-10.5M60.5 640.7h10.5M978.7 640.7h-10.5M60.5 689.9h10.5M978.7 689.9h-10.5M60.5 739.0h10.5M978.7 739.0h-10.5M60.5 788.1h10.5M978.7 788.1h-10.5M60.5 837.2h10.5M978.7 837.2h-10.5M60.5 886.4h10.5M978.7 886.4h-10.5M169.8 935.5v-7.5M169.8 444.2v7.5M279.1 935.5v-7.5M279.1 444.2v7.5M388.4 935.5v-7.5M388.4 444.2v7.5M497.7 935.5v-7.5M497.7 444.2v7.5M607.0 935.5v-7.5M607.0 444.2v7.5M716.3 935.5v-7.5M716.3 444.2v7.5M825.6 935.5v-7.5M825.6 444.2v7.5M934.9 935.5v-7.5M934.9 444.2v7.5" stroke="#231F20" stroke-width="2.3" fill="none"/>
<text transform="translate(60.5 967.7) scale(1 1.04)" font-size="28.5" fill="#231F20" text-anchor="middle">0</text>
<text transform="translate(169.8 967.7) scale(1 1.04)" font-size="28.5" fill="#231F20" text-anchor="middle">5</text>
<text transform="translate(279.1 967.7) scale(1 1.04)" font-size="28.5" fill="#231F20" text-anchor="middle">10</text>
<text transform="translate(388.4 967.7) scale(1 1.04)" font-size="28.5" fill="#231F20" text-anchor="middle">15</text>
<text transform="translate(497.7 967.7) scale(1 1.04)" font-size="28.5" fill="#231F20" text-anchor="middle">20</text>
<text transform="translate(607.0 967.7) scale(1 1.04)" font-size="28.5" fill="#231F20" text-anchor="middle">25</text>
<text transform="translate(716.3 967.7) scale(1 1.04)" font-size="28.5" fill="#231F20" text-anchor="middle">30</text>
<text transform="translate(825.6 967.7) scale(1 1.04)" font-size="28.5" fill="#231F20" text-anchor="middle">35</text>
<text transform="translate(934.9 967.7) scale(1 1.04)" font-size="28.5" fill="#231F20" text-anchor="middle">40</text>
<text x="378.7" y="1005" font-size="28.5" fill="#231F20">Frequency (GHz)</text>
<text transform="translate(33.6 937.5) rotate(-90) scale(1 1.1)" font-size="26.0" fill="#231F20">EO modulation response S<tspan font-size="21.5" dy="6">21</tspan><tspan dy="-6" dx="5" font-size="26.9"> (10 dB/div)</tspan></text>
<rect x="556" y="454.3" width="405.3" height="200.1" fill="#fff"/>
<clipPath id="ci"><rect x="556" y="454.3" width="405.3" height="200.1"/></clipPath>
<polyline clip-path="url(#ci)" points="556.0,633.1 556.7,637.9 557.3,634.8 558.0,632.4 558.7,636.3 559.3,635.9 560.0,635.4 560.7,630.6 561.4,632.0 562.1,630.4 562.8,634.9 563.5,633.0 564.1,638.9 564.8,638.6 565.5,636.2 566.2,643.0 566.9,637.8 567.6,633.1 568.3,632.8 569.0,640.2 569.7,643.0 570.4,641.4 571.0,643.9 571.7,639.2 572.4,638.9 573.1,631.8 573.8,635.2 574.5,634.3 575.2,637.7 575.9,637.3 576.6,639.8 577.3,638.8 577.9,636.7 578.6,633.1 579.3,639.3 580.0,634.8 580.7,636.3 581.4,640.0 582.1,638.4 582.8,638.1 583.5,637.9 584.1,630.4 584.8,630.4 585.5,636.6 586.2,636.5 586.9,638.6 587.6,635.1 588.3,637.0 589.0,635.8 589.7,633.1 590.4,632.5 591.0,632.6 591.7,632.7 592.4,635.9 593.1,635.6 593.8,638.5 594.5,631.7 595.2,631.8 595.9,636.4 596.6,639.0 597.3,636.5 597.9,638.6 598.6,641.3 599.2,647.2 599.9,653.8 600.6,648.3 601.3,648.3 601.9,646.8 602.6,633.1 603.4,638.2 604.1,644.3 604.8,653.8 605.5,650.7 606.2,646.3 606.9,637.5 607.6,634.5 608.3,637.5 609.0,635.4 609.7,641.4 610.4,640.0 611.0,635.2 611.7,640.2 612.4,630.2 613.1,630.4 613.8,636.3 614.5,637.8 615.2,636.1 615.9,637.3 616.6,635.7 617.3,634.7 617.9,632.8 618.6,630.4 619.4,640.3 620.1,645.7 620.8,653.8 621.5,650.3 622.1,644.0 622.8,633.1 623.5,636.3 624.2,636.2 624.8,636.9 625.5,638.6 626.2,636.4 626.9,634.1 627.6,634.1 628.3,630.4 629.0,630.2 629.7,626.4 630.4,625.6 631.2,637.6 631.9,624.9 632.5,629.7 633.2,629.6 633.9,633.3 634.5,636.1 635.2,637.3 635.9,635.7 636.6,637.7 637.3,635.5 638.0,633.1 638.6,639.2 639.3,637.0 640.0,635.8 640.7,638.6 641.4,640.0 642.1,637.8 642.8,630.3 643.5,630.4 644.2,635.1 644.8,638.2 645.5,632.2 646.2,635.9 646.9,640.4 647.6,639.5 648.3,638.1 649.0,633.1 649.7,636.4 650.5,637.9 651.2,630.4 651.8,640.7 652.5,646.8 653.1,653.8 653.8,647.2 654.5,642.0 655.2,640.8 655.9,633.1 656.6,630.3 657.3,630.0 658.0,635.3 658.6,630.4 659.3,632.5 660.0,630.7 660.7,632.7 661.4,635.9 662.1,632.0 662.8,635.1 663.6,631.5 664.3,633.1 665.0,627.6 665.7,627.3 666.3,622.8 667.0,625.2 667.6,621.9 668.3,622.1 672.4,594.5 676.0,583.5 678.8,594.5 681.3,608.3 683.5,622.1 685.4,624.9 687.6,630.4 689.0,653.8 690.9,633.1 693.1,633.1 695.3,630.4 697.3,616.6 701.4,605.5 706.9,595.9 711.1,582.1 715.2,555.9 719.3,531.9 722.1,542.1 724.0,555.9 727.6,578.0 730.4,589.0 733.1,592.3 735.9,590.4 738.7,578.0 740.9,561.4 742.8,547.6 745.6,537.9 749.7,531.0 753.8,518.6 756.6,506.2 759.3,486.9 762.1,468.1 764.9,475.9 767.1,495.2 769.8,517.3 773.1,528.3 775.9,536.6 778.7,553.1 780.9,572.4 782.8,586.2 785.6,592.3 788.3,593.1 792.5,589.0 796.6,578.0 799.4,561.4 802.1,542.1 804.9,529.7 807.6,539.3 810.4,561.4 813.1,578.0 817.3,591.7 820.0,600.0 822.8,613.8 825.0,620.7 827.8,623.5 831.1,626.2 833.8,629.0 836.6,624.9 840.7,626.2 843.5,611.1 847.1,594.5 849.0,590.4 851.8,600.0 854.5,616.6 857.3,627.6 858.0,624.2 858.7,624.8 859.4,630.2 860.0,624.9 860.7,628.1 861.4,632.1 862.1,628.9 862.8,630.4 863.5,626.7 864.2,634.7 864.9,630.4 865.6,623.5 866.3,634.5 866.9,638.6 867.6,635.9 868.3,634.3 869.0,628.2 869.7,627.6 870.4,628.7 871.1,628.0 871.8,633.8 872.5,630.4 873.2,632.6 873.8,638.6 874.5,634.6 875.2,632.2 875.9,632.1 876.6,627.6 877.3,628.7 878.0,629.9 878.7,627.1 879.4,638.5 880.1,633.9 880.7,630.4 881.4,633.2 882.1,631.1 882.8,626.5 883.5,631.6 884.2,625.7 884.9,626.2 885.6,630.9 886.3,625.1 886.9,627.8 887.6,628.3 888.3,633.4 889.0,629.0 889.7,625.9 890.4,627.6 891.1,628.9 891.8,623.5 892.5,630.9 893.2,638.7 893.8,645.1 894.5,645.5 895.2,638.4 895.9,639.0 896.6,634.0 897.3,627.6 898.0,627.8 898.7,631.7 899.4,633.6 900.1,629.4 900.7,633.0 901.4,630.4 902.1,634.0 902.8,628.2 903.5,631.4 904.2,624.9 904.9,624.7 905.6,629.9 906.3,629.9 907.0,629.5 907.6,634.6 908.3,630.4 909.0,634.3 909.7,636.5 910.4,633.6 911.1,626.6 911.8,631.4 912.5,627.6 913.2,631.4 913.8,628.8 914.5,632.8 915.2,627.9 915.9,632.0 916.6,630.4 917.3,627.4 918.0,631.8 918.7,622.4 919.4,623.5 920.1,636.7 920.8,644.4 921.6,653.8 922.2,649.8 922.9,645.8 923.6,639.4 924.2,634.9 924.9,627.6 925.6,627.3 926.3,626.6 927.0,631.1 927.6,627.2 928.3,634.5 929.0,630.4 929.7,637.9 930.4,626.9 931.1,627.0 931.8,626.3 932.5,629.5 933.2,626.2 933.9,628.5 934.5,626.2 935.2,626.1 935.9,628.9 936.6,628.4 937.3,630.4 938.0,629.3 938.7,634.4 939.4,626.3 940.1,630.1 940.8,633.1 941.4,627.6 942.1,632.0 942.8,631.4 943.5,632.1 944.2,628.1 944.9,628.5 945.6,631.8 946.3,630.6 947.0,632.6 947.6,631.7 948.3,633.2 949.0,632.1 949.7,629.0 950.4,631.3 951.1,630.8 951.8,625.4 952.5,630.1 953.2,630.0 953.9,626.2 954.5,632.5 955.2,633.6 955.9,627.6 956.6,630.6 957.3,634.9 958.0,633.1 958.7,631.4 959.3,642.8 960.0,633.1 960.6,628.7 961.3,630.4" fill="none" stroke="#0E6EB8" stroke-width="2.9" stroke-linejoin="round"/>
<rect x="556" y="454.3" width="405.3" height="200.1" fill="none" stroke="#231F20" stroke-width="2"/>
<path d="M556 628.4h9M961.3 628.4h-9M556 601.5h9M961.3 601.5h-9M556 574.6h9M961.3 574.6h-9M556 547.7h9M961.3 547.7h-9M556 520.8h9M961.3 520.8h-9M556 493.9h9M961.3 493.9h-9M556 467.0h9M961.3 467.0h-9M690.9 654.4v-7M690.9 454.3v7M826.4 654.4v-7M826.4 454.3v7" stroke="#231F20" stroke-width="2" fill="none"/>
<text transform="translate(527.0 679.5) scale(1 1.04)" font-size="24.5" fill="#231F20">1553.5</text>
<text transform="translate(658.0 679.5) scale(1 1.04)" font-size="24.5" fill="#231F20">1554</text>
<text transform="translate(793.2 679.5) scale(1 1.04)" font-size="24.5" fill="#231F20">1554.5</text>
<text transform="translate(921.5 679.5) scale(1 1.04)" font-size="24.5" fill="#231F20">1555</text>
<text x="668.1" y="702" font-size="24.5" fill="#231F20">Wavelength (nm)</text>
<text transform="translate(533.1 645.5) rotate(-90)" font-size="24.4" fill="#231F20">Power (10 dB/div)</text>
<text x="1020.5" y="437.5" font-size="41.5" font-weight="bold" fill="#231F20">c</text>
<clipPath id="cc"><rect x="1119.7" y="445" width="872.3" height="493.2"/></clipPath>
<polyline clip-path="url(#cc)" points="1120.9,679.5 1126.8,684.0 1134.2,689.9 1141.6,700.2 1151.9,706.1 1159.3,715.0 1168.2,718.5 1177.0,722.4 1185.9,717.4 1193.3,719.4 1200.7,715.6 1203.6,730.3 1208.1,720.9 1215.4,720.3 1218.4,717.4 1221.9,722.4 1225.8,747.5 1230.2,751.9 1233.2,772.6 1236.1,750.4 1240.5,731.2 1245.0,744.5 1247.9,763.7 1252.4,751.9 1255.3,747.5 1259.2,738.0 1262.7,753.4 1266.2,759.3 1270.7,780.0 1274.5,741.6 1277.5,750.4 1281.9,760.8 1289.3,762.3 1293.7,768.2 1296.7,756.3 1303.3,753.4 1304.8,754.5 1306.2,760.1 1307.7,762.2 1309.2,772.4 1310.7,780.0 1312.2,777.9 1313.6,779.5 1315.1,777.0 1316.6,776.8 1318.1,778.4 1319.5,780.0 1321.0,781.8 1322.5,782.7 1324.0,781.4 1325.4,790.0 1326.9,794.7 1328.4,787.1 1329.9,774.8 1331.4,768.1 1332.8,770.2 1334.3,770.6 1335.8,771.2 1337.3,769.6 1338.7,768.3 1340.2,766.8 1341.7,768.1 1343.2,773.6 1344.6,774.9 1346.1,780.0 1347.6,779.0 1349.1,781.0 1350.6,778.5 1352.0,777.3 1353.5,778.3 1355.0,780.0 1356.5,779.1 1357.9,781.6 1359.4,782.4 1360.9,780.0 1362.4,778.1 1363.8,778.8 1365.3,780.0 1366.8,780.5 1368.3,776.4 1369.8,777.0 1371.2,782.5 1372.7,786.6 1374.2,791.8 1375.7,788.8 1377.1,780.5 1378.6,777.0 1380.1,773.2 1381.6,769.6 1383.1,765.2 1384.5,771.3 1386.0,780.3 1387.5,791.8 1389.0,786.0 1390.4,781.1 1391.9,780.0 1393.4,785.1 1394.9,792.2 1396.3,797.7 1397.8,796.1 1399.3,794.7 1400.8,806.0 1402.3,815.4 1403.7,806.1 1405.2,797.1 1406.7,785.9 1408.2,793.1 1409.6,792.5 1411.1,800.6 1412.6,793.3 1414.1,791.8 1415.5,782.6 1417.0,780.0 1418.5,796.6 1420.0,812.4 1421.5,804.1 1422.9,800.6 1424.4,794.7 1425.9,781.3 1427.4,770.5 1428.8,759.3 1430.3,770.6 1431.8,782.9 1433.3,792.5 1434.7,797.2 1436.2,809.5 1437.7,806.5 1439.2,802.1 1440.7,800.6 1442.1,804.7 1443.6,807.3 1445.1,808.1 1446.6,815.4 1448.0,812.0 1449.5,809.9 1451.0,809.3 1452.5,803.6 1453.9,805.6 1455.4,806.3 1456.9,806.5 1458.4,812.4 1459.9,808.8 1461.3,814.0 1462.8,809.9 1464.3,811.8 1465.8,804.4 1467.2,806.5 1468.9,807.3 1470.5,816.8 1472.1,813.6 1473.7,820.7 1475.3,824.5 1476.8,822.8 1478.3,818.8 1479.8,817.0 1481.2,812.7 1482.7,813.3 1484.2,822.0 1485.7,826.3 1487.2,830.4 1488.6,832.8 1490.1,830.3 1491.6,830.4 1493.1,821.0 1494.5,814.3 1496.0,806.8 1497.5,808.7 1499.0,819.1 1500.4,821.5 1501.9,835.7 1503.4,847.0 1504.9,862.9 1506.4,851.9 1507.8,835.6 1509.3,824.5 1510.8,827.5 1512.3,834.8 1513.7,833.4 1515.2,845.1 1516.7,848.6 1518.2,857.0 1519.6,848.0 1521.1,845.4 1522.6,836.3 1524.1,832.7 1525.6,823.8 1527.0,812.7 1528.5,840.1 1530.0,865.9 1531.5,860.3 1532.9,854.6 1534.4,842.2 1535.9,859.6 1537.4,880.6 1538.9,858.3 1540.3,845.5 1541.8,824.5 1543.3,828.3 1544.8,825.2 1546.2,822.7 1547.7,824.5 1549.2,825.0 1550.7,823.0 1552.1,831.1 1553.6,830.4 1555.1,837.7 1556.6,833.1 1558.1,840.0 1559.5,842.2 1561.0,842.2 1562.5,844.6 1564.0,848.2 1565.4,847.5 1566.9,845.2 1568.4,844.8 1569.9,838.1 1571.3,839.3 1572.8,839.3 1574.5,831.8 1576.2,829.5 1577.9,818.3 1579.6,815.6 1580.8,822.1 1582.0,829.9 1583.2,842.2 1584.6,846.9 1586.1,843.7 1587.6,850.0 1589.1,854.0 1590.5,852.1 1592.0,856.4 1593.5,848.3 1595.0,853.8 1596.5,851.1 1597.9,845.7 1599.4,839.6 1600.9,836.3 1602.4,835.8 1603.8,842.7 1605.3,851.6 1606.8,851.1 1608.3,857.7 1609.7,856.9 1611.2,861.0 1612.7,868.8 1614.2,865.2 1615.7,862.2 1617.1,857.0 1618.6,867.7 1620.1,874.8 1621.6,877.7 1623.0,874.1 1624.5,860.5 1626.0,857.0 1627.5,860.4 1628.9,862.3 1630.4,868.8 1631.9,868.4 1633.4,863.6 1634.9,863.8 1636.3,862.9 1637.8,865.7 1639.3,859.3 1640.8,864.1 1642.2,860.0 1643.7,860.2 1645.2,856.4 1646.7,859.4 1648.1,857.0 1649.4,858.4 1650.6,856.1 1651.8,857.1 1653.3,860.7 1654.8,860.4 1656.2,858.6 1657.7,858.5 1659.2,858.2 1660.7,855.6 1662.2,864.4 1663.6,868.1 1665.1,873.4 1666.6,873.5 1668.1,869.3 1669.5,867.5 1671.0,866.0 1672.5,864.3 1674.0,864.5 1675.4,864.3 1676.9,869.4 1678.4,867.5 1679.9,875.1 1681.4,885.2 1682.8,878.9 1684.3,870.3 1685.8,864.5 1687.3,866.8 1688.7,867.5 1690.0,873.9 1691.3,882.9 1692.6,897.0 1693.6,882.4 1694.6,870.4 1696.1,880.1 1697.6,894.0 1699.1,885.4 1700.6,870.4 1702.0,873.9 1703.5,875.6 1705.0,873.4 1706.5,874.2 1707.9,876.7 1709.4,876.3 1710.9,881.6 1712.4,880.6 1713.8,885.2 1715.3,879.7 1716.8,885.5 1718.3,879.3 1719.8,884.2 1721.2,877.4 1722.7,882.2 1724.2,878.6 1725.7,883.8 1727.1,881.4 1728.6,879.3 1730.1,882.3 1731.6,879.9 1733.1,877.9 1734.5,880.8 1736.0,876.9 1737.5,882.5 1739.0,877.8 1740.4,884.6 1741.9,890.8 1743.4,897.0 1744.9,893.1 1746.3,888.8 1747.8,882.2 1749.3,880.7 1750.8,879.4 1752.3,883.7 1753.7,886.5 1755.2,878.9 1756.7,880.8 1758.2,884.4 1759.6,883.2 1761.1,885.2 1762.6,886.6 1764.1,894.9 1765.5,894.0 1767.0,891.2 1768.5,886.7 1770.0,879.3 1771.5,878.4 1772.9,883.2 1774.4,882.2 1775.9,888.4 1777.4,897.0 1778.8,894.4 1780.3,890.5 1781.8,882.2 1783.3,878.5 1784.7,885.0 1786.2,880.9 1787.7,882.2 1789.2,879.5 1790.7,887.0 1792.1,889.5 1793.6,888.1 1795.1,885.0 1796.6,888.3 1798.0,887.3 1799.5,885.2 1801.0,898.5 1802.5,914.3 1803.9,923.6 1805.4,906.5 1806.9,885.2 1808.4,893.0 1809.9,900.0 1811.3,901.3 1812.8,889.8 1814.3,891.1 1815.7,898.9 1817.0,905.7 1818.4,910.7 1820.0,899.3 1821.7,884.7 1823.3,891.0 1824.9,892.3 1826.5,892.8 1828.2,899.9 1829.8,898.4 1831.4,890.7 1833.0,894.9 1834.7,889.0 1836.3,891.0 1837.9,885.5 1839.5,890.9 1841.2,889.0 1842.8,887.0 1844.4,892.7 1846.0,886.5 1847.7,891.2 1849.3,889.1 1850.9,894.5 1852.5,897.0 1854.2,899.9 1855.6,894.7 1857.1,886.7 1858.5,886.9 1860.0,888.9 1861.4,899.6 1862.8,906.4 1864.3,903.0 1865.7,900.4 1867.2,891.2 1868.8,894.4 1870.4,890.7 1872.1,892.5 1873.7,893.4 1875.3,894.9 1876.9,890.8 1878.6,892.6 1880.2,891.2 1881.8,890.8 1883.4,894.4 1885.1,891.6 1886.7,893.4 1888.3,889.3 1889.9,891.8 1891.6,891.2 1893.2,891.2 1894.8,892.3 1896.4,890.5 1898.1,891.3 1899.7,893.4 1901.1,895.3 1902.6,894.3 1904.0,891.2 1905.5,886.3 1906.9,889.7 1908.3,889.0 1910.0,890.9 1911.6,884.0 1913.2,887.0 1914.9,886.9 1916.3,884.8 1917.7,888.7 1919.2,889.0 1920.6,886.0 1922.1,885.9 1923.5,882.5 1924.8,872.9 1926.1,860.9 1927.5,868.8 1928.9,884.7 1930.3,884.1 1931.6,881.8 1933.0,890.4 1934.4,886.9 1936.0,883.3 1937.6,885.2 1939.2,885.1 1940.9,889.0 1942.5,886.2 1944.1,890.6 1945.7,888.3 1947.4,891.2 1949.0,892.1 1950.6,893.3 1952.2,890.9 1953.9,886.9 1955.5,885.6 1957.1,885.7 1958.7,885.3 1960.4,889.0 1961.8,890.6 1963.2,884.7 1964.7,892.3 1966.1,890.4 1967.6,889.2 1969.0,886.9 1970.5,891.6 1971.9,883.9 1973.4,889.0 1975.0,880.7 1976.7,878.9 1978.3,873.9 1979.6,881.8 1980.9,886.9 1982.3,882.8 1983.7,886.1 1985.0,881.3 1986.4,884.7 1988.0,884.8 1989.6,886.9" fill="none" stroke="#A8A8A8" stroke-width="3.1" stroke-linejoin="round"/>
<polyline clip-path="url(#cc)" points="1120.9,463.6 1132.7,463.6 1141.6,471.0 1151.9,479.9 1160.8,490.2 1168.2,496.1 1174.1,499.1 1178.5,499.1 1185.9,496.1 1190.3,495.5 1194.8,498.5 1200.7,499.1 1205.1,503.5 1211.0,510.9 1215.4,509.4 1218.4,513.9 1221.3,540.4 1224.3,525.7 1227.3,519.8 1230.2,527.1 1233.2,559.6 1236.1,540.4 1239.1,537.5 1242.9,530.1 1246.5,540.4 1249.4,543.4 1250.9,539.0 1253.2,552.3 1256.2,562.6 1258.3,543.4 1260.3,543.4 1262.1,556.7 1264.2,549.3 1266.2,567.0 1268.6,552.3 1272.4,539.0 1274.5,543.4 1277.5,580.3 1279.8,567.0 1283.4,570.0 1286.3,571.5 1289.3,571.5 1293.1,567.0 1295.8,630.5 1298.1,596.6 1299.6,578.8 1303.3,580.6 1304.8,584.3 1306.2,590.9 1307.7,593.9 1309.2,595.7 1310.7,597.8 1312.2,598.3 1313.6,595.4 1315.1,591.9 1316.6,590.9 1318.1,593.5 1319.5,593.9 1321.0,599.4 1322.5,605.7 1324.0,604.0 1325.4,605.7 1326.9,600.0 1328.4,597.8 1329.9,595.3 1331.2,597.3 1332.4,598.2 1333.7,599.8 1334.9,607.7 1336.1,614.1 1337.3,624.9 1338.4,619.6 1339.6,616.5 1340.8,608.6 1342.0,601.9 1343.2,598.3 1344.6,604.9 1346.1,608.6 1347.6,629.4 1349.1,654.4 1350.6,656.5 1352.0,655.9 1353.2,640.7 1354.4,626.3 1355.6,626.1 1356.8,624.2 1357.9,621.9 1359.4,618.1 1360.9,616.0 1362.1,621.6 1363.3,623.4 1364.9,616.8 1366.6,613.3 1368.3,604.2 1369.6,610.2 1370.8,610.3 1372.1,617.5 1373.3,628.8 1374.5,637.7 1375.7,647.0 1377.1,639.1 1378.6,626.9 1380.1,616.0 1381.4,625.1 1382.7,633.4 1383.9,641.1 1385.1,637.5 1386.3,637.1 1387.5,635.2 1388.8,631.1 1390.0,620.3 1391.3,616.0 1392.7,625.6 1394.0,636.7 1395.2,671.7 1396.3,703.1 1397.8,650.0 1398.9,649.5 1399.9,644.1 1401.1,634.6 1402.3,629.3 1403.7,632.2 1405.2,638.2 1406.2,628.0 1407.3,614.5 1408.5,641.3 1409.6,664.7 1411.1,651.4 1412.6,641.1 1414.1,650.4 1415.5,664.7 1417.0,656.0 1418.5,652.9 1420.0,672.1 1421.5,685.4 1422.9,670.2 1424.4,648.5 1425.9,665.0 1427.4,688.4 1428.4,624.8 1429.4,562.8 1430.6,601.9 1431.8,644.1 1433.3,658.3 1434.7,673.6 1436.2,668.0 1437.7,661.8 1439.2,677.9 1440.7,694.3 1442.1,651.5 1443.6,663.0 1445.1,673.6 1446.6,694.5 1448.0,715.0 1449.5,667.7 1451.0,691.6 1452.5,715.0 1453.9,700.4 1455.4,679.5 1456.9,666.0 1458.4,655.9 1459.9,678.5 1461.3,706.1 1462.8,696.4 1464.3,681.0 1465.8,683.4 1467.2,682.6 1468.7,688.4 1470.2,694.2 1471.7,696.8 1473.1,700.2 1474.4,714.9 1475.6,724.0 1476.8,738.8 1478.3,721.4 1479.8,697.5 1481.0,677.8 1482.1,663.5 1483.3,676.5 1484.5,682.5 1485.7,694.5 1487.2,693.2 1488.6,685.7 1490.1,701.8 1491.6,714.8 1493.1,725.5 1494.5,708.9 1496.0,688.6 1497.5,679.3 1499.0,665.0 1500.4,688.3 1501.9,706.3 1503.2,692.6 1504.5,671.2 1505.8,659.1 1506.9,680.6 1508.1,707.8 1509.3,727.0 1510.5,693.7 1511.7,666.0 1512.9,639.9 1514.1,659.1 1515.4,675.7 1516.7,688.6 1518.2,702.9 1519.6,712.3 1521.1,725.7 1522.6,736.4 1524.1,747.7 1525.6,734.7 1527.0,724.8 1528.5,715.2 1530.0,719.9 1531.5,728.4 1532.9,735.9 1534.0,708.0 1535.0,678.3 1536.2,698.1 1537.4,718.2 1538.8,745.5 1540.3,763.9 1541.8,741.2 1543.3,712.3 1544.8,717.8 1546.2,718.8 1547.7,727.0 1549.2,716.1 1550.7,705.9 1552.1,700.4 1553.6,695.1 1555.1,694.1 1556.6,689.5 1558.1,690.1 1559.5,694.7 1561.0,709.3 1562.5,712.3 1564.0,719.8 1565.4,724.4 1566.9,738.8 1568.4,743.3 1569.9,736.2 1571.3,733.7 1572.8,724.3 1574.3,717.5 1575.8,709.3 1577.3,717.0 1578.7,715.3 1580.2,724.1 1581.7,729.3 1583.2,736.8 1584.6,738.8 1586.1,730.6 1587.6,732.7 1589.1,727.0 1590.5,722.0 1592.0,714.1 1593.5,708.9 1595.0,706.3 1596.5,718.6 1597.9,725.7 1599.4,730.0 1600.9,742.5 1602.4,747.7 1603.6,732.1 1604.9,725.8 1606.2,712.3 1607.4,716.3 1608.6,716.3 1609.7,724.1 1611.2,737.0 1612.7,744.7 1614.2,734.4 1615.7,733.5 1617.1,724.1 1618.6,728.8 1620.1,743.8 1621.6,747.7 1623.0,747.7 1624.5,743.6 1626.0,741.8 1627.5,749.8 1628.9,759.5 1630.4,743.8 1631.9,727.0 1633.4,734.9 1634.9,750.7 1636.3,761.9 1637.8,769.0 1639.3,774.3 1640.9,765.9 1642.5,755.1 1644.2,741.3 1645.8,728.5 1647.1,741.7 1648.3,755.5 1649.6,765.4 1650.7,756.2 1651.8,749.3 1653.3,760.2 1654.8,764.1 1656.2,750.6 1657.7,741.9 1659.2,749.4 1660.7,755.0 1662.2,761.1 1663.6,766.9 1665.1,767.0 1666.6,752.3 1668.1,730.1 1669.5,750.0 1671.0,772.9 1672.5,774.4 1674.0,775.9 1675.4,766.7 1676.9,759.6 1678.4,769.1 1679.9,781.8 1681.4,769.0 1682.8,749.6 1684.3,731.6 1685.8,736.4 1687.3,733.5 1688.7,739.0 1690.2,760.6 1691.7,775.9 1693.2,786.5 1694.6,789.2 1696.1,799.5 1697.3,783.2 1698.5,771.5 1699.7,783.2 1700.9,795.1 1702.0,805.4 1703.5,811.4 1705.0,820.2 1706.7,801.7 1708.3,778.8 1710.0,753.7 1711.2,783.3 1712.4,814.3 1713.8,803.9 1715.3,801.0 1716.8,806.7 1718.3,817.2 1719.8,807.7 1721.2,802.5 1722.7,803.1 1724.2,802.2 1725.7,801.0 1727.1,811.9 1728.6,814.3 1730.1,809.5 1731.6,802.5 1733.1,798.0 1734.5,800.7 1736.0,805.5 1737.5,805.4 1739.0,801.5 1740.4,793.6 1741.9,801.2 1743.4,802.5 1744.9,795.1 1746.3,790.4 1747.8,783.3 1749.3,789.5 1750.8,790.7 1752.3,779.6 1753.7,775.9 1755.2,784.5 1756.7,793.6 1758.2,798.1 1759.6,799.5 1761.1,812.7 1762.6,820.2 1764.1,825.4 1765.5,818.4 1767.0,823.1 1768.5,836.2 1770.0,840.9 1771.5,840.7 1772.9,851.0 1774.4,852.7 1775.9,850.8 1777.4,853.0 1778.8,858.6 1780.3,857.8 1781.8,862.5 1783.3,860.1 1784.7,858.0 1786.2,854.6 1787.7,858.6 1789.2,862.6 1790.7,865.5 1792.1,870.4 1793.6,866.0 1795.1,864.0 1796.6,867.5 1798.0,872.6 1799.5,871.8 1801.0,876.3 1802.5,876.6 1803.9,879.9 1805.4,882.2 1806.9,877.7 1808.4,882.3 1809.9,879.3 1811.3,884.0 1812.8,884.6 1814.3,891.1 1815.8,892.2 1817.3,891.2 1818.8,889.1 1820.2,887.2 1821.7,886.9 1823.1,891.0 1824.6,898.7 1826.0,899.9 1827.1,923.7 1828.7,903.2 1830.3,891.2 1831.8,886.2 1833.2,888.2 1834.7,889.0 1836.1,891.9 1837.6,898.8 1839.0,904.2 1840.5,902.7 1841.9,896.8 1843.3,893.4 1844.8,895.7 1846.2,901.8 1847.7,904.2 1849.1,899.7 1850.6,895.2 1852.0,884.7 1853.5,888.9 1854.9,894.2 1856.3,893.4 1857.8,892.1 1859.2,901.6 1860.7,902.0 1861.8,906.3 1862.8,917.2 1864.3,905.5 1865.7,902.8 1867.2,889.0 1868.6,896.7 1870.1,895.0 1871.5,899.9 1873.0,910.6 1874.4,915.5 1875.8,923.7 1877.1,891.1 1878.4,860.8 1879.7,834.9 1881.0,833.7 1882.3,834.9 1883.4,859.0 1884.5,886.9 1886.0,891.8 1887.4,896.7 1888.8,899.9 1890.5,908.5 1892.1,908.1 1893.7,915.1 1895.3,917.2 1896.8,911.5 1898.2,900.0 1899.7,893.4 1901.1,893.8 1902.6,903.1 1904.0,906.4 1905.5,908.2 1906.9,902.7 1908.3,902.0 1909.8,903.4 1911.2,907.3 1912.7,915.0 1913.8,921.8 1914.9,932.4 1916.3,928.9 1917.7,919.8 1919.2,908.5 1920.8,908.7 1922.4,898.4 1924.1,896.0 1925.7,893.4 1927.3,897.6 1928.9,895.8 1930.6,897.8 1932.2,904.2 1933.6,902.0 1935.1,906.8 1936.5,908.5 1938.1,908.2 1939.8,904.5 1941.4,907.7 1943.0,904.2 1944.6,906.1 1946.3,906.2 1947.9,906.6 1949.5,910.7 1951.1,911.6 1952.8,907.6 1954.4,910.7 1956.0,906.4 1957.5,916.3 1958.9,919.4 1960.4,923.7 1961.8,917.4 1963.2,905.8 1964.7,897.7 1966.1,901.2 1967.6,897.4 1969.0,899.9 1970.5,896.7 1971.9,901.5 1973.4,899.9 1974.8,902.2 1976.2,899.8 1977.7,902.0 1979.3,901.5 1980.9,901.5 1982.6,893.7 1984.2,893.4 1985.5,895.4 1986.9,893.2 1988.3,892.0 1989.6,893.4" fill="none" stroke="#0072BD" stroke-width="3.1" stroke-linejoin="round"/>
<polyline clip-path="url(#cc)" points="1120.9,556.7 1126.8,564.1 1134.2,574.4 1143.1,595.1 1151.9,603.9 1159.9,584.2 1166.7,593.6 1174.1,615.8 1185.3,599.5 1192.4,610.7 1199.2,616.4 1204.2,621.7 1208.9,606.0 1212.5,607.8 1218.4,634.4 1225.8,618.7 1228.7,618.7 1233.2,626.1 1236.1,635.0 1245.0,632.6 1247.9,643.8 1251.8,635.0 1256.2,655.6 1259.7,660.1 1264.2,643.2 1267.1,643.8 1271.6,663.0 1274.5,658.6 1277.5,670.4 1279.8,658.6 1284.9,658.0 1290.8,660.1 1295.2,683.7 1299.6,666.0 1303.3,663.3 1304.8,670.4 1306.2,673.6 1307.7,673.8 1309.2,670.7 1310.7,672.1 1312.2,676.6 1313.6,680.4 1315.1,682.5 1316.6,684.9 1318.1,685.6 1319.5,689.9 1321.0,688.1 1322.5,683.5 1324.0,681.0 1325.4,685.4 1326.9,686.9 1328.4,696.1 1329.9,706.1 1331.4,699.9 1332.8,695.4 1334.3,688.4 1335.8,690.2 1337.3,694.3 1338.7,705.0 1340.2,712.0 1341.7,701.0 1343.2,694.2 1344.6,682.5 1346.1,688.8 1347.6,691.2 1349.1,697.2 1350.6,700.6 1352.0,701.7 1353.5,705.6 1355.0,707.8 1356.5,712.0 1357.9,707.8 1359.4,701.3 1360.9,698.7 1362.4,696.0 1363.8,701.3 1365.3,698.7 1366.8,705.0 1368.3,709.1 1369.8,723.2 1371.2,734.2 1372.7,717.8 1374.2,703.1 1375.7,713.6 1377.1,729.7 1378.6,726.2 1380.1,728.3 1381.4,721.7 1382.7,715.9 1383.9,712.0 1385.1,711.0 1386.3,708.7 1387.5,709.1 1388.7,723.4 1389.8,731.9 1391.0,744.5 1392.2,728.7 1393.4,715.0 1394.9,714.1 1396.3,715.0 1397.8,717.7 1399.3,723.8 1400.8,722.1 1402.3,725.3 1403.7,728.5 1405.2,729.7 1406.7,722.0 1408.2,716.4 1409.6,725.4 1411.1,735.6 1412.6,742.8 1414.1,744.5 1415.5,737.4 1417.0,726.8 1418.5,735.6 1420.0,738.6 1421.5,732.2 1422.9,723.8 1424.4,742.0 1425.9,756.3 1427.4,732.7 1428.4,711.6 1429.4,686.9 1430.6,709.4 1431.8,732.7 1433.3,745.8 1434.7,753.4 1436.2,761.1 1437.7,771.1 1439.2,759.3 1440.7,750.4 1442.1,743.5 1443.6,735.6 1445.1,740.8 1446.6,744.5 1448.0,755.8 1449.5,765.2 1450.7,757.1 1451.9,747.5 1452.9,750.0 1453.9,759.3 1455.4,770.7 1456.9,777.0 1458.4,768.7 1459.9,756.3 1461.3,751.0 1462.8,738.6 1464.3,744.8 1465.8,752.4 1467.2,762.2 1468.7,762.5 1470.2,755.2 1471.7,756.3 1473.1,764.0 1474.6,774.0 1475.8,778.1 1477.1,773.0 1478.3,774.3 1479.8,765.6 1481.2,756.0 1482.7,747.7 1484.2,755.8 1485.7,761.1 1487.2,765.4 1488.6,762.8 1490.1,764.5 1491.6,761.0 1493.1,777.7 1494.5,793.5 1496.0,783.1 1497.5,773.7 1499.0,765.4 1500.3,755.7 1501.5,746.3 1502.8,737.4 1504.0,738.9 1505.2,744.8 1506.4,755.1 1507.8,772.3 1509.3,795.0 1510.5,775.9 1511.7,757.8 1512.9,732.9 1514.1,744.2 1515.4,760.0 1516.7,780.2 1518.2,770.9 1519.6,761.0 1521.1,776.3 1522.6,788.9 1524.1,797.9 1525.6,788.8 1527.0,784.4 1528.5,780.2 1530.2,769.8 1531.9,759.6 1533.5,744.7 1534.8,761.3 1536.1,769.9 1537.4,784.6 1538.8,776.6 1540.3,765.4 1541.6,777.7 1542.9,785.6 1544.2,799.4 1545.3,792.3 1546.5,777.5 1547.7,771.3 1549.2,768.1 1550.7,760.5 1552.1,756.6 1553.8,758.6 1555.5,758.2 1557.2,755.1 1558.4,756.4 1559.7,764.4 1561.0,768.4 1562.5,785.7 1564.0,797.3 1565.4,809.7 1566.9,804.3 1568.4,797.1 1569.9,795.0 1571.3,784.6 1572.8,780.6 1574.3,775.4 1575.8,765.4 1577.3,779.1 1578.7,790.0 1580.2,797.9 1581.7,793.2 1583.2,790.2 1584.6,780.2 1586.1,781.7 1587.6,782.5 1589.1,783.1 1590.7,773.9 1592.4,759.2 1594.1,743.3 1595.4,755.5 1596.6,760.9 1597.9,771.3 1599.4,775.8 1600.9,775.7 1602.4,783.1 1603.8,777.2 1605.3,765.4 1606.8,767.8 1608.3,774.3 1609.7,788.9 1611.2,800.9 1612.7,785.8 1614.2,777.9 1615.7,768.4 1617.1,775.5 1618.6,789.1 1620.1,783.1 1621.6,780.4 1623.0,774.3 1624.3,789.3 1625.6,799.8 1626.9,818.6 1628.1,808.8 1629.2,794.6 1630.4,789.1 1631.9,776.7 1633.4,765.4 1634.6,780.8 1635.7,791.7 1636.9,803.8 1638.2,803.7 1639.5,807.1 1640.8,806.8 1642.4,793.1 1644.1,777.2 1645.8,763.9 1647.1,773.3 1648.3,786.2 1649.6,795.0 1650.7,792.6 1651.8,787.7 1653.3,783.1 1654.8,772.6 1656.2,770.0 1657.7,779.8 1659.2,785.1 1660.7,787.7 1662.2,792.0 1663.6,804.9 1665.1,809.9 1666.6,782.8 1668.1,758.2 1669.5,777.2 1671.0,790.7 1672.5,796.6 1674.0,802.5 1675.4,796.3 1676.9,787.7 1678.4,793.6 1679.9,798.8 1681.4,802.5 1682.8,780.0 1684.3,755.2 1685.8,763.4 1687.3,768.8 1688.7,775.9 1690.2,787.9 1691.7,799.5 1693.2,802.2 1694.6,812.5 1696.1,817.2 1697.6,819.1 1699.1,823.1 1700.6,815.2 1702.0,817.8 1703.5,811.3 1704.8,821.7 1706.1,827.9 1707.4,837.9 1708.7,806.2 1710.0,771.5 1711.2,806.2 1712.4,832.0 1713.9,830.8 1715.3,838.1 1716.8,837.9 1718.3,832.1 1719.8,817.2 1721.2,815.7 1722.7,818.7 1724.2,823.1 1725.7,817.6 1727.1,819.4 1728.6,811.3 1730.1,812.8 1731.6,823.5 1733.1,829.1 1734.5,822.8 1736.0,818.0 1737.5,817.2 1739.0,813.8 1740.4,818.3 1741.9,820.2 1743.4,811.6 1744.9,805.2 1746.3,799.5 1747.8,805.2 1749.3,804.8 1750.8,808.4 1752.3,795.5 1753.7,784.7 1755.2,795.4 1756.7,805.4 1758.2,808.3 1759.6,811.3 1761.1,820.2 1762.6,826.1 1764.1,832.0 1765.5,836.3 1767.0,846.3 1768.5,846.8 1770.0,854.9 1771.5,856.1 1772.9,858.6 1774.4,863.4 1775.9,859.6 1777.4,864.5 1778.8,871.4 1780.3,873.8 1781.8,873.4 1783.3,875.8 1784.7,875.5 1786.2,880.5 1787.7,882.2 1789.2,882.4 1790.7,878.6 1792.1,876.3 1793.6,875.9 1795.1,873.4 1796.6,873.4 1798.0,878.5 1799.5,883.9 1801.0,885.2 1802.5,887.1 1803.9,880.6 1805.4,882.2 1806.9,884.3 1808.4,881.6 1809.9,879.3 1811.3,879.8 1812.8,886.5 1814.3,885.2 1815.8,882.4 1817.3,884.7 1818.8,880.0 1820.2,884.1 1821.7,880.4 1823.3,882.5 1824.9,876.0 1826.4,878.7 1827.8,884.8 1829.3,889.0 1830.7,892.0 1832.1,898.8 1833.6,902.0 1835.0,902.4 1836.5,899.7 1837.9,893.4 1839.4,899.3 1840.8,903.8 1842.3,906.4 1843.7,896.9 1845.1,889.7 1846.6,882.5 1848.0,884.2 1849.5,891.0 1850.9,899.9 1852.4,893.6 1853.8,893.8 1855.3,889.0 1856.7,891.6 1858.1,887.7 1859.6,893.4 1861.0,891.1 1862.5,895.2 1863.9,893.4 1865.4,903.7 1866.8,909.5 1868.3,915.0 1869.9,902.4 1871.5,889.0 1873.0,887.7 1874.4,894.6 1875.8,897.7 1877.1,882.0 1878.4,854.2 1879.7,837.0 1880.8,833.6 1881.9,834.9 1883.4,880.4 1885.1,890.7 1886.7,895.5 1888.1,901.0 1889.6,904.1 1891.0,904.2 1892.5,900.0 1893.9,892.7 1895.3,893.4 1896.8,900.3 1898.2,905.8 1899.7,906.4 1901.1,902.4 1902.6,896.7 1904.0,893.4 1905.5,899.5 1906.9,910.2 1908.3,921.5 1909.8,916.7 1911.2,913.9 1912.7,906.4 1914.1,905.7 1915.6,911.9 1917.0,915.0 1918.5,905.6 1919.9,905.4 1921.4,899.9 1922.8,899.1 1924.2,898.3 1925.7,897.7 1927.1,898.3 1928.6,900.2 1930.0,906.4 1931.5,906.9 1932.9,904.6 1934.4,897.7 1935.8,902.5 1937.2,910.4 1938.7,910.7 1940.1,911.2 1941.6,912.5 1943.0,915.0 1944.5,908.8 1945.9,901.2 1947.4,899.9 1948.8,901.3 1950.2,904.9 1951.7,908.5 1953.1,906.8 1954.6,899.6 1956.0,897.7 1957.5,900.3 1958.9,907.2 1960.4,908.5 1961.8,902.7 1963.2,898.0 1964.7,891.2 1966.1,891.2 1967.6,889.9 1969.0,893.4 1970.5,894.7 1971.9,898.2 1973.4,899.9 1974.8,900.2 1976.2,893.0 1977.7,891.2 1979.1,888.6 1980.6,888.4 1982.0,893.4 1983.5,895.5 1984.9,890.1 1986.4,886.9 1988.0,892.0 1989.6,891.2" fill="none" stroke="#EDB120" stroke-width="3.1" stroke-linejoin="round"/>
<polyline clip-path="url(#cc)" points="1120.9,703.2 1132.7,699.6 1144.5,697.3 1151.9,696.7 1159.3,701.7 1166.7,715.0 1173.5,732.7 1178.5,732.1 1185.3,733.6 1190.3,726.2 1196.2,718.5 1200.7,726.8 1203.6,740.1 1208.1,732.1 1211.9,741.0 1215.4,732.7 1219.0,726.2 1221.9,735.7 1224.9,759.3 1227.3,751.9 1230.8,736.3 1233.2,738.6 1236.1,746.0 1238.5,763.7 1242.0,745.1 1245.0,747.5 1247.3,757.8 1250.3,751.0 1253.8,759.9 1256.8,751.9 1261.2,750.4 1264.2,749.0 1267.1,759.3 1272.2,770.5 1277.5,759.3 1283.4,761.7 1289.3,762.3 1295.2,759.9 1303.3,754.8 1304.8,758.6 1306.2,760.0 1307.7,762.2 1309.2,759.4 1310.7,758.9 1312.2,755.6 1313.6,755.7 1315.1,758.1 1316.6,761.9 1318.1,762.2 1319.5,765.6 1321.0,769.6 1322.5,772.3 1324.0,777.0 1325.4,776.0 1326.9,773.9 1328.4,769.6 1329.9,770.3 1331.4,770.0 1332.8,769.0 1334.3,771.1 1335.8,771.2 1337.3,768.6 1338.7,769.6 1340.2,769.5 1341.7,770.8 1343.2,772.6 1344.6,768.4 1346.1,767.6 1347.6,763.7 1349.1,765.8 1350.6,768.5 1352.0,768.1 1353.5,778.4 1355.0,785.9 1356.5,781.6 1357.9,774.0 1359.4,780.0 1360.9,788.8 1362.4,793.7 1363.8,797.7 1365.3,792.3 1366.8,782.9 1368.3,781.5 1369.8,777.6 1371.2,777.0 1372.7,788.6 1374.2,797.7 1375.7,805.7 1377.1,815.4 1378.6,789.6 1380.1,762.2 1381.4,757.8 1382.7,749.6 1383.9,743.0 1385.1,753.1 1386.3,763.5 1387.5,774.0 1389.0,773.9 1390.4,774.6 1391.9,771.1 1393.4,782.9 1394.9,794.7 1396.3,788.2 1397.8,780.0 1399.3,782.1 1400.8,783.8 1402.3,782.9 1403.7,782.2 1405.2,787.2 1406.7,788.8 1408.2,781.8 1409.6,780.0 1411.1,778.7 1412.6,781.6 1414.1,785.9 1415.5,795.1 1417.0,797.7 1418.5,796.4 1420.0,795.7 1421.5,791.8 1422.9,794.3 1424.4,796.6 1425.9,797.7 1427.4,805.5 1428.8,815.4 1430.3,800.3 1431.8,782.9 1433.3,793.1 1434.7,806.5 1436.2,805.4 1437.7,803.6 1439.2,794.9 1440.7,785.9 1442.1,784.6 1443.6,782.9 1445.1,796.3 1446.6,815.4 1448.0,811.6 1449.5,805.8 1451.0,803.6 1452.5,797.9 1453.9,801.7 1455.4,797.7 1456.9,800.6 1458.4,813.0 1459.9,815.4 1461.3,808.6 1462.8,800.5 1464.3,794.7 1465.8,795.4 1467.2,799.6 1468.7,809.5 1470.2,812.4 1471.8,817.1 1473.5,817.3 1475.2,824.4 1476.8,824.5 1478.3,813.5 1479.8,806.2 1481.2,793.8 1482.7,787.6 1484.2,798.6 1485.7,814.1 1487.2,824.5 1488.6,830.8 1490.1,836.3 1491.6,845.2 1493.1,834.9 1494.5,824.5 1495.9,822.3 1497.2,814.9 1498.5,806.9 1499.9,803.8 1501.0,815.2 1502.2,816.1 1503.4,827.5 1504.9,834.7 1506.4,836.8 1507.8,842.2 1509.3,828.7 1510.8,812.5 1512.3,800.9 1513.7,808.6 1515.2,817.5 1516.7,830.4 1518.2,839.7 1519.6,850.1 1521.1,857.0 1522.6,836.3 1524.1,824.5 1525.6,830.4 1527.0,840.2 1528.5,848.1 1530.0,837.6 1531.5,818.6 1532.9,836.4 1534.4,854.0 1535.9,842.7 1537.4,830.7 1538.8,818.6 1540.3,828.4 1541.8,844.4 1543.3,857.0 1544.8,858.4 1546.2,865.9 1547.7,853.3 1549.2,837.9 1550.7,820.1 1552.1,825.9 1553.6,824.5 1555.1,830.4 1556.6,832.8 1558.1,832.6 1559.5,839.3 1561.0,841.0 1562.5,838.6 1564.0,842.2 1565.4,849.1 1566.9,850.5 1568.4,854.0 1569.9,843.7 1571.3,839.0 1572.8,830.4 1574.3,834.5 1575.8,841.7 1577.3,845.2 1578.7,844.7 1580.2,833.0 1581.7,833.4 1583.2,832.2 1584.6,838.7 1586.1,836.3 1587.6,826.0 1589.1,823.1 1590.5,815.6 1592.0,833.5 1593.5,840.7 1595.0,857.0 1596.5,842.9 1597.9,821.5 1599.4,826.3 1600.9,836.0 1602.4,842.2 1603.8,840.8 1605.3,832.5 1606.8,833.4 1608.3,834.6 1609.7,832.4 1611.2,827.5 1612.7,835.0 1614.2,851.1 1615.7,855.9 1617.1,864.8 1618.6,865.9 1620.1,852.7 1621.6,841.7 1623.0,830.4 1624.3,850.5 1625.6,869.9 1626.9,895.4 1627.9,874.1 1628.9,860.0 1630.4,852.6 1631.9,840.2 1633.4,833.4 1634.9,849.3 1636.3,860.6 1637.8,868.8 1639.3,864.0 1640.8,855.0 1642.2,848.1 1643.7,851.5 1645.2,845.7 1646.7,851.1 1648.0,853.3 1649.2,851.7 1650.5,846.5 1651.8,843.8 1653.3,845.9 1654.8,846.8 1656.0,844.1 1657.1,832.5 1658.3,832.0 1659.6,840.7 1660.9,844.7 1662.2,852.7 1663.6,849.2 1665.1,854.1 1666.6,855.6 1668.1,852.1 1669.5,840.9 1671.0,843.6 1672.5,842.7 1674.0,846.8 1675.4,837.9 1676.9,829.1 1678.4,840.9 1679.9,846.8 1681.4,852.5 1682.8,864.5 1684.3,859.8 1685.8,846.8 1687.3,829.7 1688.7,818.7 1690.2,829.4 1691.7,846.8 1693.2,848.4 1694.6,858.6 1696.1,854.2 1697.6,843.9 1699.1,835.0 1700.6,845.2 1702.0,852.7 1703.5,856.2 1705.0,861.5 1706.5,868.3 1707.9,882.2 1709.4,873.2 1710.9,863.5 1712.4,858.6 1713.9,857.3 1715.3,856.1 1716.8,852.7 1718.3,864.8 1719.8,876.3 1721.2,866.4 1722.7,858.6 1724.2,850.5 1725.7,846.8 1727.1,855.8 1728.6,861.5 1730.1,851.8 1731.6,851.6 1733.1,840.9 1734.5,842.9 1736.0,845.1 1737.5,846.8 1739.0,845.0 1740.4,833.5 1741.9,832.0 1743.4,833.8 1744.9,831.6 1746.3,826.1 1747.8,824.0 1749.3,821.2 1750.8,823.1 1752.3,821.4 1753.7,814.3 1755.2,814.6 1756.7,823.1 1758.2,832.8 1759.6,837.9 1761.1,844.4 1762.6,846.8 1764.1,847.4 1765.5,850.2 1767.0,858.6 1768.5,856.1 1770.0,862.4 1771.5,861.5 1772.9,861.9 1774.4,867.8 1775.9,864.5 1777.4,862.2 1778.8,870.6 1780.3,867.5 1781.8,872.1 1783.3,866.7 1784.7,868.9 1786.2,864.5 1787.7,871.0 1789.2,867.5 1790.7,867.8 1792.1,867.4 1793.6,864.5 1795.1,861.6 1796.6,860.5 1798.0,862.5 1799.5,864.5 1801.0,869.3 1802.5,863.1 1803.9,871.7 1805.4,870.4 1806.9,865.7 1808.4,864.7 1809.9,864.5 1811.3,863.6 1812.8,865.1 1814.3,860.1 1815.8,858.8 1817.3,856.5 1818.8,855.6 1820.2,856.0 1821.7,852.2 1823.1,852.6 1824.6,852.4 1826.0,847.9 1827.4,844.4 1828.9,848.3 1830.3,842.4 1831.8,845.9 1833.2,843.0 1834.7,840.3 1836.1,837.7 1837.6,842.1 1839.0,844.6 1840.5,849.8 1841.9,847.1 1843.3,852.2 1844.8,854.2 1846.2,855.0 1847.7,858.7 1849.1,857.1 1850.6,862.2 1852.0,863.0 1853.5,864.7 1854.9,871.7 1856.3,871.7 1857.8,869.1 1859.2,877.4 1860.7,874.9 1862.1,875.6 1863.6,880.6 1865.0,880.4 1866.5,878.5 1867.9,878.0 1869.3,882.5 1870.8,878.5 1872.2,880.4 1873.7,882.5 1875.3,877.8 1876.9,878.2 1878.6,883.7 1880.2,886.9 1881.6,889.4 1883.1,893.4 1884.5,891.2 1886.0,893.0 1887.4,893.2 1888.8,893.4 1889.9,886.9 1891.0,884.7 1892.5,878.3 1893.9,881.4 1895.3,878.2 1897.0,877.4 1898.6,882.5 1900.2,891.3 1901.8,891.2 1903.5,884.2 1905.1,873.9 1906.2,879.4 1907.3,893.4 1908.9,890.6 1910.5,889.0 1912.0,886.8 1913.4,887.4 1914.9,893.4 1916.5,897.8 1918.1,904.2 1919.7,913.5 1921.4,915.0 1922.4,902.0 1923.5,895.5 1925.1,915.1 1926.8,925.9 1928.4,909.1 1930.0,893.4 1931.5,895.2 1932.9,904.5 1934.4,904.2 1935.8,906.1 1937.2,908.3 1938.7,915.0 1940.3,913.4 1941.9,904.2 1943.6,914.5 1945.2,917.2 1946.8,915.4 1948.4,908.5 1950.1,920.7 1951.7,928.0 1953.3,919.0 1954.9,910.7 1956.6,916.0 1958.2,915.0 1959.6,912.0 1961.1,910.5 1962.5,908.5 1963.9,912.5 1965.2,922.9 1966.6,931.6 1967.9,936.7 1969.6,919.4 1971.2,906.4 1972.6,908.9 1974.1,914.1 1975.5,923.7 1977.2,913.7 1978.8,904.2 1980.1,901.7 1981.5,905.7 1982.8,908.4 1984.2,908.5 1985.5,904.0 1986.9,910.1 1988.3,903.3 1989.6,906.4" fill="none" stroke="#D95319" stroke-width="3.1" stroke-linejoin="round"/>
<rect x="1119.7" y="445" width="872.3" height="493.2" fill="none" stroke="#231F20" stroke-width="2.6"/>
<path d="M1119.7 457.3h9.8M1992 457.3h-9.8M1119.7 506.6h9.8M1992 506.6h-9.8M1119.7 555.8h9.8M1992 555.8h-9.8M1119.7 605.1h9.8M1992 605.1h-9.8M1119.7 654.3h9.8M1992 654.3h-9.8M1119.7 703.6h9.8M1992 703.6h-9.8M1119.7 752.8h9.8M1992 752.8h-9.8M1119.7 802.1h9.8M1992 802.1h-9.8M1119.7 851.3h9.8M1992 851.3h-9.8M1119.7 900.6h9.8M1992 900.6h-9.8M1172.2 938.2v-6.6M1172.2 445v6.6M1202.9 938.2v-6.6M1202.9 445v6.6M1224.7 938.2v-6.6M1224.7 445v6.6M1241.6 938.2v-6.6M1241.6 445v6.6M1255.5 938.2v-6.6M1255.5 445v6.6M1267.1 938.2v-6.6M1267.1 445v6.6M1277.3 938.2v-6.6M1277.3 445v6.6M1286.2 938.2v-6.6M1286.2 445v6.6M1294.2 938.2v-9.6M1294.2 445v9.6M1346.7 938.2v-6.6M1346.7 445v6.6M1377.4 938.2v-6.6M1377.4 445v6.6M1399.2 938.2v-6.6M1399.2 445v6.6M1416.1 938.2v-6.6M1416.1 445v6.6M1429.9 938.2v-6.6M1429.9 445v6.6M1441.6 938.2v-6.6M1441.6 445v6.6M1451.7 938.2v-6.6M1451.7 445v6.6M1460.6 938.2v-6.6M1460.6 445v6.6M1468.6 938.2v-9.6M1468.6 445v9.6M1521.1 938.2v-6.6M1521.1 445v6.6M1551.9 938.2v-6.6M1551.9 445v6.6M1573.7 938.2v-6.6M1573.7 445v6.6M1590.6 938.2v-6.6M1590.6 445v6.6M1604.4 938.2v-6.6M1604.4 445v6.6M1616.1 938.2v-6.6M1616.1 445v6.6M1626.2 938.2v-6.6M1626.2 445v6.6M1635.1 938.2v-6.6M1635.1 445v6.6M1643.1 938.2v-9.6M1643.1 445v9.6M1695.6 938.2v-6.6M1695.6 445v6.6M1726.3 938.2v-6.6M1726.3 445v6.6M1748.1 938.2v-6.6M1748.1 445v6.6M1765.0 938.2v-6.6M1765.0 445v6.6M1778.8 938.2v-6.6M1778.8 445v6.6M1790.5 938.2v-6.6M1790.5 445v6.6M1800.6 938.2v-6.6M1800.6 445v6.6M1809.6 938.2v-6.6M1809.6 445v6.6M1817.5 938.2v-9.6M1817.5 445v9.6M1870.1 938.2v-6.6M1870.1 445v6.6M1900.8 938.2v-6.6M1900.8 445v6.6M1922.6 938.2v-6.6M1922.6 445v6.6M1939.5 938.2v-6.6M1939.5 445v6.6M1953.3 938.2v-6.6M1953.3 445v6.6M1965.0 938.2v-6.6M1965.0 445v6.6M1975.1 938.2v-6.6M1975.1 445v6.6M1984.0 938.2v-6.6M1984.0 445v6.6" stroke="#231F20" stroke-width="2.5" fill="none"/>
<text transform="translate(1110.6 469.5) scale(1 1.04)" font-size="29" fill="#231F20" text-anchor="end">60</text>
<text transform="translate(1110.6 518.8) scale(1 1.04)" font-size="29" fill="#231F20" text-anchor="end">40</text>
<text transform="translate(1110.6 568.0) scale(1 1.04)" font-size="29" fill="#231F20" text-anchor="end">20</text>
<text transform="translate(1110.6 617.3) scale(1 1.04)" font-size="29" fill="#231F20" text-anchor="end">0</text>
<text transform="translate(1110.6 666.5) scale(1 1.04)" font-size="29" fill="#231F20" text-anchor="end">-20</text>
<text transform="translate(1110.6 715.8) scale(1 1.04)" font-size="29" fill="#231F20" text-anchor="end">-40</text>
<text transform="translate(1110.6 765.0) scale(1 1.04)" font-size="29" fill="#231F20" text-anchor="end">-60</text>
<text transform="translate(1110.6 814.3) scale(1 1.04)" font-size="29" fill="#231F20" text-anchor="end">-80</text>
<text transform="translate(1110.6 863.5) scale(1 1.04)" font-size="29" fill="#231F20" text-anchor="end">-100</text>
<text transform="translate(1110.6 912.8) scale(1 1.04)" font-size="29" fill="#231F20" text-anchor="end">-120</text>
<text transform="translate(1120.7 972.8) scale(1 1.04)" font-size="28.5" fill="#231F20" text-anchor="middle">10<tspan font-size="23" dy="-11.4">0</tspan></text>
<text transform="translate(1295.2 972.8) scale(1 1.04)" font-size="28.5" fill="#231F20" text-anchor="middle">10<tspan font-size="23" dy="-11.4">1</tspan></text>
<text transform="translate(1469.6 972.8) scale(1 1.04)" font-size="28.5" fill="#231F20" text-anchor="middle">10<tspan font-size="23" dy="-11.4">2</tspan></text>
<text transform="translate(1644.1 972.8) scale(1 1.04)" font-size="28.5" fill="#231F20" text-anchor="middle">10<tspan font-size="23" dy="-11.4">3</tspan></text>
<text transform="translate(1818.5 972.8) scale(1 1.04)" font-size="28.5" fill="#231F20" text-anchor="middle">10<tspan font-size="23" dy="-11.4">4</tspan></text>
<text transform="translate(1999 972.8) scale(1 1.04)" font-size="28.5" fill="#231F20" text-anchor="end">10<tspan font-size="23" dy="-11.4">5</tspan></text>
<text x="1441.9" y="1006" font-size="28.5" fill="#231F20">Frequency (Hz)</text>
<text transform="translate(1051 827) rotate(-90)" font-size="27.4" fill="#231F20">Phase noise<tspan font-size="29.6" dx="2"> (dBc/Hz)</tspan></text>
<line x1="1616.4" y1="474.6" x2="1697.6" y2="474.6" stroke="#0072BD" stroke-width="3.8"/>
<text transform="translate(1716.5 483.0) scale(1 1.025)" font-size="28.5" fill="#231F20">Free running</text>
<line x1="1616.4" y1="514.2" x2="1697.6" y2="514.2" stroke="#EDB120" stroke-width="3.8"/>
<text transform="translate(1716.5 525.4) scale(1 1.025)" font-size="28.5" fill="#231F20">RF direct locking</text>
<line x1="1616.4" y1="556.9" x2="1697.6" y2="556.9" stroke="#D95319" stroke-width="3.8"/>
<text transform="translate(1716.5 568.0) scale(1 1.025)" font-size="28.5" fill="#231F20">RF feedback locking</text>
<line x1="1616.4" y1="596.6" x2="1697.6" y2="596.6" stroke="#A8A8A8" stroke-width="3.8"/>
<text transform="translate(1716.5 607.4) scale(1 1.025)" font-size="28.5" fill="#231F20">External RF source</text>
</svg>
</body></html>
